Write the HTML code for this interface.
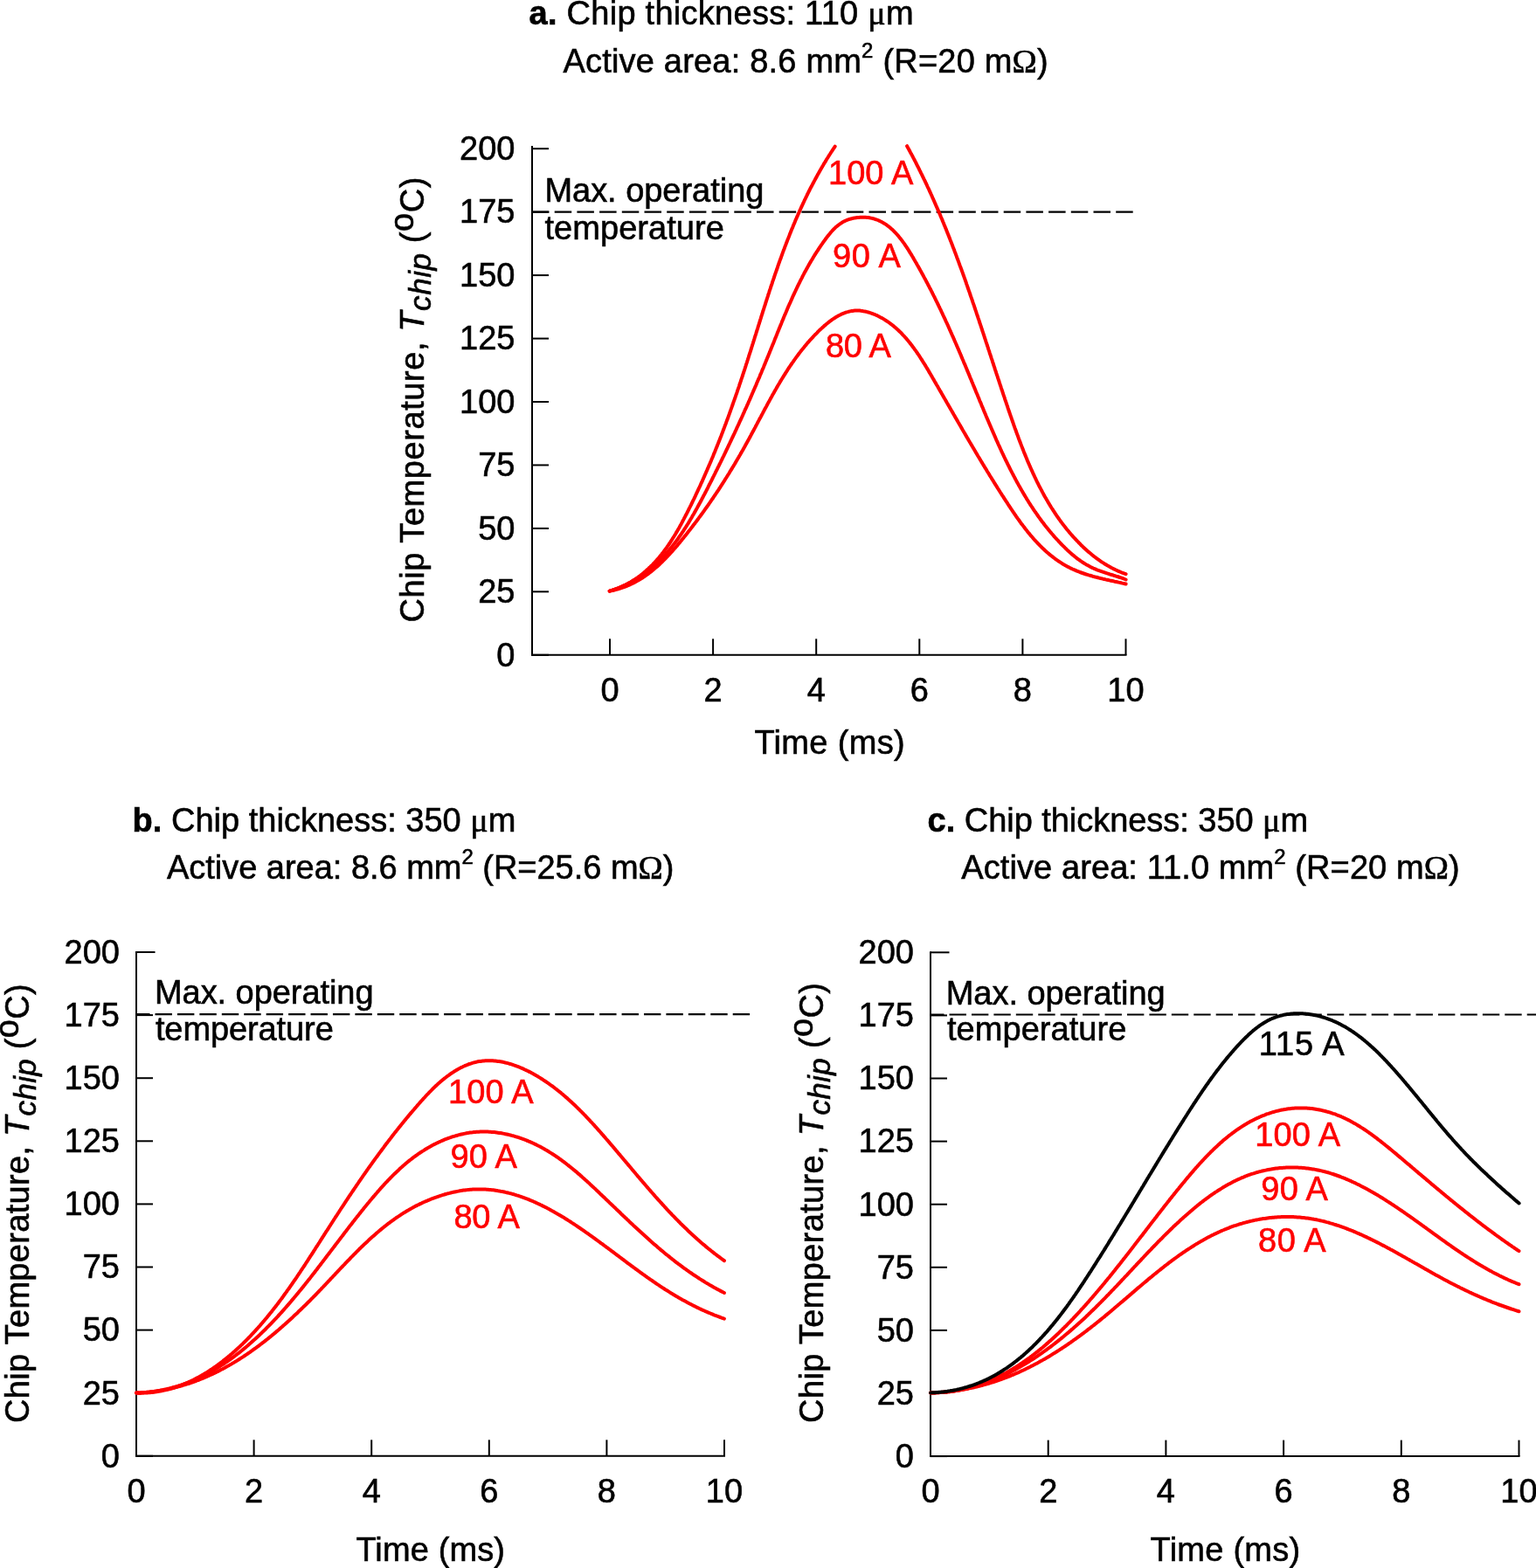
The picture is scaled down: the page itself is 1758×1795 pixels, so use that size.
<!DOCTYPE html>
<html><head><meta charset="utf-8"><title>Chip temperature</title>
<style>html,body{margin:0;padding:0;background:#fff;}svg{display:block;}</style>
</head><body>
<svg xmlns="http://www.w3.org/2000/svg" width="1758" height="1795" viewBox="0 0 1758 1795" font-family="&apos;Liberation Sans&apos;, Arial, sans-serif">
<style>text{stroke-width:0.6px;}</style>
<rect width="100%" height="100%" fill="#fff"/>
<line x1="609.00" y1="167.00" x2="609.00" y2="750.80" stroke="#000" stroke-width="2"/>
<line x1="608.00" y1="749.80" x2="1289.50" y2="749.80" stroke="#000" stroke-width="2"/>
<line x1="609.00" y1="749.80" x2="628.00" y2="749.80" stroke="#000" stroke-width="2"/>
<text x="589.5" y="762.6" text-anchor="end" fill="#000" stroke="#000" font-size="38">0</text>
<line x1="609.00" y1="677.35" x2="628.00" y2="677.35" stroke="#000" stroke-width="2"/>
<text x="589.5" y="690.1" text-anchor="end" fill="#000" stroke="#000" font-size="38">25</text>
<line x1="609.00" y1="604.90" x2="628.00" y2="604.90" stroke="#000" stroke-width="2"/>
<text x="589.5" y="617.7" text-anchor="end" fill="#000" stroke="#000" font-size="38">50</text>
<line x1="609.00" y1="532.45" x2="628.00" y2="532.45" stroke="#000" stroke-width="2"/>
<text x="589.5" y="545.2" text-anchor="end" fill="#000" stroke="#000" font-size="38">75</text>
<line x1="609.00" y1="460.00" x2="628.00" y2="460.00" stroke="#000" stroke-width="2"/>
<text x="589.5" y="472.8" text-anchor="end" fill="#000" stroke="#000" font-size="38">100</text>
<line x1="609.00" y1="387.55" x2="628.00" y2="387.55" stroke="#000" stroke-width="2"/>
<text x="589.5" y="400.3" text-anchor="end" fill="#000" stroke="#000" font-size="38">125</text>
<line x1="609.00" y1="315.10" x2="628.00" y2="315.10" stroke="#000" stroke-width="2"/>
<text x="589.5" y="327.9" text-anchor="end" fill="#000" stroke="#000" font-size="38">150</text>
<line x1="609.00" y1="242.65" x2="628.00" y2="242.65" stroke="#000" stroke-width="2"/>
<text x="589.5" y="255.4" text-anchor="end" fill="#000" stroke="#000" font-size="38">175</text>
<line x1="609.00" y1="170.20" x2="628.00" y2="170.20" stroke="#000" stroke-width="2"/>
<text x="589.5" y="183.0" text-anchor="end" fill="#000" stroke="#000" font-size="38">200</text>
<line x1="698.00" y1="749.80" x2="698.00" y2="731.30" stroke="#000" stroke-width="2"/>
<text x="698.0" y="803.0" text-anchor="middle" fill="#000" stroke="#000" font-size="38">0</text>
<line x1="816.10" y1="749.80" x2="816.10" y2="731.30" stroke="#000" stroke-width="2"/>
<text x="816.1" y="803.0" text-anchor="middle" fill="#000" stroke="#000" font-size="38">2</text>
<line x1="934.20" y1="749.80" x2="934.20" y2="731.30" stroke="#000" stroke-width="2"/>
<text x="934.2" y="803.0" text-anchor="middle" fill="#000" stroke="#000" font-size="38">4</text>
<line x1="1052.30" y1="749.80" x2="1052.30" y2="731.30" stroke="#000" stroke-width="2"/>
<text x="1052.3" y="803.0" text-anchor="middle" fill="#000" stroke="#000" font-size="38">6</text>
<line x1="1170.40" y1="749.80" x2="1170.40" y2="731.30" stroke="#000" stroke-width="2"/>
<text x="1170.4" y="803.0" text-anchor="middle" fill="#000" stroke="#000" font-size="38">8</text>
<line x1="1288.50" y1="749.80" x2="1288.50" y2="731.30" stroke="#000" stroke-width="2"/>
<text x="1288.5" y="803.0" text-anchor="middle" fill="#000" stroke="#000" font-size="38">10</text>
<line x1="609.00" y1="242.70" x2="1297.00" y2="242.70" stroke="#000" stroke-width="2.2" stroke-dasharray="19.5 6.2" stroke-dashoffset="0"/>
<text x="623.40" y="230.80" fill="#000" stroke="#000" font-size="38" textLength="250.98" lengthAdjust="spacing">Max. operating</text>
<text x="623.50" y="273.50" fill="#000" stroke="#000" font-size="38" textLength="205.29" lengthAdjust="spacing">temperature</text>
<text x="863.40" y="863.00" fill="#000" stroke="#000" font-size="38" textLength="172.36" lengthAdjust="spacing">Time (ms)</text>
<text transform="translate(484.50 712.60) rotate(-90)" fill="#000" stroke="#000" font-size="38" textLength="509.98" lengthAdjust="spacing">Chip Temperature, <tspan font-style="italic">T</tspan><tspan font-style="italic" font-size="35" dy="8">chip</tspan><tspan dy="-8"> (</tspan><tspan dy="-12">o</tspan><tspan dy="12">C)</tspan></text>
<text x="605.50" y="28.00" fill="#000" stroke="#000" font-size="38" textLength="440.07" lengthAdjust="spacing"><tspan font-weight="bold">a.</tspan> Chip thickness: 110 <tspan font-family="&apos;Liberation Serif&apos;, &apos;Times New Roman&apos;, serif">&#956;</tspan>m</text>
<text x="644.40" y="83.00" fill="#000" stroke="#000" font-size="38" textLength="555.30" lengthAdjust="spacing">Active area: 8.6 mm<tspan font-size="24" dy="-17">2</tspan><tspan dy="17"> (R=20 m</tspan><tspan font-family="&apos;Liberation Serif&apos;, &apos;Times New Roman&apos;, serif">&#937;</tspan>)</text>
<path d="M697.7 676.6 L699.3 676.3 L700.8 676.0 L702.3 675.7 L703.8 675.3 L705.3 674.9 L706.8 674.5 L708.3 674.1 L709.8 673.6 L711.2 673.2 L712.6 672.7 L714.1 672.2 L715.5 671.6 L716.9 671.1 L718.3 670.5 L719.6 669.9 L721.0 669.3 L722.3 668.7 L723.7 668.0 L725.0 667.4 L726.3 666.7 L727.6 666.0 L728.9 665.3 L730.2 664.6 L731.5 663.8 L732.8 663.0 L734.0 662.3 L735.3 661.5 L736.5 660.7 L737.7 659.8 L738.9 659.0 L740.1 658.1 L741.3 657.3 L742.5 656.4 L743.7 655.5 L744.9 654.6 L746.0 653.7 L747.2 652.7 L748.3 651.8 L749.4 650.8 L750.6 649.8 L751.7 648.9 L752.8 647.9 L753.9 646.9 L755.0 645.9 L756.1 644.8 L757.2 643.8 L758.2 642.8 L759.3 641.7 L760.4 640.6 L761.4 639.6 L762.5 638.5 L763.5 637.4 L764.5 636.3 L765.6 635.2 L766.6 634.1 L767.6 633.0 L768.6 631.9 L769.6 630.8 L770.6 629.6 L771.6 628.5 L772.6 627.4 L773.6 626.2 L774.6 625.1 L775.6 623.9 L776.5 622.7 L777.5 621.6 L778.5 620.4 L779.4 619.2 L780.4 618.1 L781.3 616.9 L782.3 615.7 L783.2 614.6 L784.2 613.4 L785.1 612.2 L786.1 611.0 L787.0 609.8 L787.9 608.6 L788.8 607.5 L789.8 606.3 L790.7 605.1 L791.6 603.9 L792.5 602.7 L793.4 601.5 L794.3 600.3 L795.3 599.1 L796.2 597.9 L797.1 596.7 L798.0 595.5 L798.9 594.3 L799.7 593.1 L800.6 591.9 L801.5 590.7 L802.4 589.5 L803.3 588.3 L804.2 587.1 L805.0 585.9 L805.9 584.7 L806.8 583.4 L807.6 582.2 L808.5 581.0 L809.4 579.8 L810.2 578.6 L811.1 577.3 L811.9 576.1 L812.8 574.9 L813.6 573.7 L814.5 572.4 L815.3 571.2 L816.2 570.0 L817.0 568.7 L817.8 567.5 L818.7 566.3 L819.5 565.0 L820.3 563.8 L821.1 562.6 L822.0 561.3 L822.8 560.1 L823.6 558.8 L824.4 557.6 L825.2 556.3 L826.0 555.1 L826.8 553.8 L827.6 552.6 L828.4 551.3 L829.2 550.1 L830.0 548.8 L830.8 547.5 L831.6 546.3 L832.4 545.0 L833.2 543.7 L834.0 542.5 L834.8 541.2 L835.5 539.9 L836.3 538.7 L837.1 537.4 L837.9 536.1 L838.6 534.8 L839.4 533.6 L840.2 532.3 L841.0 531.0 L841.7 529.7 L842.5 528.4 L843.2 527.1 L844.0 525.8 L844.7 524.6 L845.5 523.3 L846.2 522.0 L847.0 520.7 L847.7 519.4 L848.5 518.1 L849.2 516.8 L850.0 515.5 L850.7 514.2 L851.4 512.9 L852.2 511.5 L852.9 510.2 L853.6 508.9 L854.4 507.6 L855.1 506.3 L855.8 505.0 L856.5 503.7 L857.3 502.3 L858.0 501.0 L858.7 499.7 L859.4 498.4 L860.1 497.0 L860.8 495.7 L861.5 494.4 L862.3 493.1 L863.0 491.7 L863.7 490.4 L864.4 489.1 L865.1 487.7 L865.8 486.4 L866.5 485.1 L867.2 483.7 L867.9 482.4 L868.6 481.1 L869.3 479.7 L870.1 478.4 L870.8 477.1 L871.5 475.7 L872.2 474.4 L872.9 473.1 L873.6 471.7 L874.3 470.4 L875.0 469.0 L875.7 467.7 L876.5 466.4 L877.2 465.1 L877.9 463.7 L878.6 462.4 L879.3 461.1 L880.1 459.7 L880.8 458.4 L881.5 457.1 L882.2 455.8 L883.0 454.4 L883.7 453.1 L884.4 451.8 L885.2 450.5 L885.9 449.2 L886.7 447.8 L887.4 446.5 L888.2 445.2 L888.9 443.9 L889.7 442.6 L890.4 441.3 L891.2 440.0 L892.0 438.7 L892.7 437.4 L893.5 436.1 L894.3 434.8 L895.1 433.5 L895.9 432.2 L896.7 430.9 L897.5 429.7 L898.3 428.4 L899.1 427.1 L899.9 425.8 L900.7 424.6 L901.5 423.3 L902.3 422.0 L903.2 420.8 L904.0 419.5 L904.8 418.3 L905.7 417.0 L906.5 415.8 L907.4 414.6 L908.3 413.3 L909.1 412.1 L910.0 410.9 L910.9 409.6 L911.8 408.4 L912.7 407.2 L913.6 406.0 L914.5 404.8 L915.4 403.6 L916.3 402.4 L917.2 401.2 L918.2 400.0 L919.1 398.9 L920.1 397.7 L921.0 396.5 L922.0 395.4 L923.0 394.2 L923.9 393.1 L924.9 391.9 L925.9 390.8 L926.9 389.6 L927.9 388.5 L929.0 387.4 L930.0 386.3 L931.0 385.2 L932.1 384.0 L933.1 382.9 L934.2 381.9 L935.3 380.8 L936.3 379.7 L937.4 378.6 L938.5 377.6 L939.6 376.5 L940.8 375.5 L941.9 374.4 L943.0 373.4 L944.2 372.4 L945.3 371.4 L946.5 370.5 L947.7 369.5 L948.8 368.6 L950.0 367.7 L951.2 366.8 L952.4 365.9 L953.6 365.1 L954.9 364.3 L956.1 363.5 L957.3 362.7 L958.6 362.0 L959.8 361.3 L961.1 360.7 L962.4 360.0 L963.7 359.4 L965.0 358.9 L966.3 358.4 L967.6 357.9 L968.9 357.4 L970.2 357.1 L971.5 356.7 L972.9 356.4 L974.2 356.1 L975.6 355.9 L977.0 355.7 L978.3 355.6 L979.7 355.5 L981.1 355.5 L982.5 355.5 L983.9 355.6 L985.3 355.8 L986.7 355.9 L988.1 356.2 L989.6 356.4 L991.0 356.7 L992.4 357.1 L993.8 357.5 L995.2 357.9 L996.6 358.3 L998.0 358.8 L999.4 359.4 L1000.8 359.9 L1002.2 360.5 L1003.6 361.1 L1004.9 361.8 L1006.3 362.5 L1007.6 363.2 L1009.0 363.9 L1010.3 364.6 L1011.6 365.4 L1012.8 366.2 L1014.1 367.0 L1015.3 367.8 L1016.6 368.6 L1017.8 369.5 L1019.0 370.4 L1020.2 371.3 L1021.3 372.2 L1022.5 373.1 L1023.6 374.1 L1024.8 375.0 L1025.9 376.0 L1027.0 377.0 L1028.1 378.0 L1029.1 379.0 L1030.2 380.1 L1031.3 381.1 L1032.3 382.2 L1033.3 383.3 L1034.4 384.4 L1035.4 385.5 L1036.4 386.6 L1037.4 387.7 L1038.3 388.9 L1039.3 390.0 L1040.3 391.2 L1041.2 392.4 L1042.2 393.6 L1043.1 394.8 L1044.0 396.0 L1044.9 397.2 L1045.8 398.4 L1046.7 399.7 L1047.6 400.9 L1048.5 402.1 L1049.4 403.4 L1050.2 404.7 L1051.1 405.9 L1052.0 407.2 L1052.8 408.5 L1053.6 409.8 L1054.5 411.1 L1055.3 412.4 L1056.1 413.7 L1056.9 415.0 L1057.8 416.3 L1058.6 417.6 L1059.4 418.9 L1060.2 420.3 L1061.0 421.6 L1061.8 422.9 L1062.6 424.2 L1063.3 425.6 L1064.1 426.9 L1064.9 428.2 L1065.7 429.6 L1066.5 430.9 L1067.2 432.2 L1068.0 433.6 L1068.8 434.9 L1069.5 436.2 L1070.3 437.6 L1071.1 438.9 L1071.8 440.2 L1072.6 441.5 L1073.4 442.8 L1074.1 444.2 L1074.9 445.5 L1075.6 446.8 L1076.4 448.1 L1077.2 449.4 L1077.9 450.7 L1078.7 452.1 L1079.4 453.4 L1080.2 454.7 L1080.9 456.0 L1081.7 457.3 L1082.4 458.6 L1083.2 459.9 L1083.9 461.2 L1084.7 462.5 L1085.4 463.8 L1086.2 465.1 L1086.9 466.4 L1087.7 467.7 L1088.4 469.0 L1089.2 470.3 L1089.9 471.6 L1090.7 472.9 L1091.4 474.2 L1092.2 475.5 L1092.9 476.8 L1093.6 478.1 L1094.4 479.3 L1095.1 480.6 L1095.9 481.9 L1096.6 483.2 L1097.4 484.5 L1098.1 485.8 L1098.9 487.1 L1099.6 488.3 L1100.3 489.6 L1101.1 490.9 L1101.8 492.2 L1102.6 493.5 L1103.3 494.7 L1104.1 496.0 L1104.8 497.3 L1105.5 498.6 L1106.3 499.9 L1107.0 501.1 L1107.8 502.4 L1108.5 503.7 L1109.3 505.0 L1110.0 506.2 L1110.8 507.5 L1111.5 508.8 L1112.3 510.1 L1113.0 511.3 L1113.8 512.6 L1114.5 513.9 L1115.3 515.1 L1116.0 516.4 L1116.8 517.7 L1117.5 518.9 L1118.3 520.2 L1119.0 521.5 L1119.8 522.8 L1120.6 524.0 L1121.3 525.3 L1122.1 526.6 L1122.8 527.8 L1123.6 529.1 L1124.4 530.4 L1125.1 531.6 L1125.9 532.9 L1126.7 534.2 L1127.4 535.4 L1128.2 536.7 L1129.0 537.9 L1129.7 539.2 L1130.5 540.5 L1131.3 541.7 L1132.1 543.0 L1132.8 544.3 L1133.6 545.5 L1134.4 546.8 L1135.2 548.1 L1136.0 549.3 L1136.8 550.6 L1137.5 551.9 L1138.3 553.1 L1139.1 554.4 L1139.9 555.7 L1140.7 556.9 L1141.5 558.2 L1142.3 559.5 L1143.1 560.7 L1143.9 562.0 L1144.7 563.3 L1145.5 564.5 L1146.3 565.8 L1147.1 567.1 L1148.0 568.3 L1148.8 569.6 L1149.6 570.9 L1150.4 572.1 L1151.2 573.4 L1152.1 574.7 L1152.9 575.9 L1153.7 577.2 L1154.5 578.5 L1155.4 579.7 L1156.2 581.0 L1157.1 582.3 L1157.9 583.5 L1158.8 584.8 L1159.6 586.1 L1160.5 587.3 L1161.3 588.6 L1162.2 589.8 L1163.0 591.1 L1163.9 592.3 L1164.8 593.6 L1165.7 594.8 L1166.6 596.0 L1167.5 597.3 L1168.3 598.5 L1169.2 599.7 L1170.2 600.9 L1171.1 602.1 L1172.0 603.3 L1172.9 604.5 L1173.8 605.7 L1174.8 606.9 L1175.7 608.1 L1176.6 609.3 L1177.6 610.4 L1178.6 611.6 L1179.5 612.8 L1180.5 613.9 L1181.5 615.0 L1182.5 616.2 L1183.4 617.3 L1184.4 618.4 L1185.5 619.5 L1186.5 620.6 L1187.5 621.7 L1188.5 622.8 L1189.6 623.8 L1190.6 624.9 L1191.6 625.9 L1192.7 627.0 L1193.8 628.0 L1194.9 629.0 L1195.9 630.0 L1197.0 631.0 L1198.1 632.0 L1199.3 633.0 L1200.4 633.9 L1201.5 634.9 L1202.6 635.8 L1203.8 636.7 L1205.0 637.6 L1206.1 638.5 L1207.3 639.4 L1208.5 640.3 L1209.7 641.1 L1210.9 642.0 L1212.1 642.8 L1213.4 643.6 L1214.6 644.4 L1215.8 645.2 L1217.1 646.0 L1218.4 646.7 L1219.7 647.4 L1221.0 648.2 L1222.3 648.9 L1223.6 649.5 L1224.9 650.2 L1226.3 650.9 L1227.6 651.5 L1229.0 652.1 L1230.4 652.7 L1231.8 653.3 L1233.2 653.9 L1234.6 654.4 L1236.0 655.0 L1237.4 655.5 L1238.8 656.0 L1240.3 656.5 L1241.7 657.0 L1243.2 657.5 L1244.6 657.9 L1246.1 658.4 L1247.6 658.8 L1249.1 659.2 L1250.5 659.7 L1252.0 660.1 L1253.5 660.5 L1255.0 660.8 L1256.5 661.2 L1258.0 661.6 L1259.5 662.0 L1261.0 662.3 L1262.4 662.7 L1263.9 663.0 L1265.4 663.4 L1266.9 663.7 L1268.4 664.0 L1269.9 664.4 L1271.3 664.7 L1272.8 665.0 L1274.3 665.3 L1275.7 665.7 L1277.2 666.0 L1278.7 666.3 L1280.1 666.6 L1281.5 666.9 L1283.0 667.2 L1284.4 667.6 L1285.8 667.9 L1287.2 668.2 L1288.6 668.5" fill="none" stroke="#ff0000" stroke-width="4" stroke-linecap="round" stroke-linejoin="round"/>
<path d="M697.7 676.6 L699.2 676.1 L700.7 675.7 L702.2 675.2 L703.7 674.7 L705.1 674.2 L706.6 673.6 L708.0 673.1 L709.4 672.5 L710.8 671.9 L712.2 671.3 L713.6 670.7 L715.0 670.1 L716.4 669.5 L717.7 668.8 L719.1 668.1 L720.4 667.5 L721.7 666.8 L723.0 666.1 L724.3 665.3 L725.6 664.6 L726.9 663.8 L728.1 663.1 L729.4 662.3 L730.6 661.5 L731.9 660.7 L733.1 659.9 L734.3 659.1 L735.5 658.2 L736.7 657.4 L737.9 656.5 L739.0 655.7 L740.2 654.8 L741.3 653.9 L742.5 653.0 L743.6 652.0 L744.7 651.1 L745.8 650.2 L746.9 649.2 L748.0 648.2 L749.1 647.3 L750.2 646.3 L751.3 645.3 L752.3 644.3 L753.4 643.3 L754.4 642.2 L755.5 641.2 L756.5 640.2 L757.5 639.1 L758.5 638.0 L759.5 637.0 L760.5 635.9 L761.5 634.8 L762.5 633.7 L763.4 632.6 L764.4 631.5 L765.3 630.3 L766.3 629.2 L767.2 628.1 L768.2 626.9 L769.1 625.8 L770.0 624.6 L770.9 623.4 L771.8 622.2 L772.7 621.1 L773.6 619.9 L774.5 618.7 L775.4 617.5 L776.2 616.3 L777.1 615.0 L778.0 613.8 L778.8 612.6 L779.7 611.3 L780.5 610.1 L781.4 608.8 L782.2 607.6 L783.0 606.3 L783.8 605.1 L784.7 603.8 L785.5 602.5 L786.3 601.2 L787.1 600.0 L787.9 598.7 L788.7 597.4 L789.4 596.1 L790.2 594.8 L791.0 593.5 L791.8 592.2 L792.5 590.8 L793.3 589.5 L794.1 588.2 L794.8 586.9 L795.6 585.6 L796.3 584.2 L797.1 582.9 L797.8 581.6 L798.5 580.2 L799.3 578.9 L800.0 577.5 L800.7 576.2 L801.5 574.9 L802.2 573.5 L802.9 572.2 L803.6 570.8 L804.3 569.5 L805.0 568.1 L805.7 566.8 L806.5 565.4 L807.2 564.0 L807.9 562.7 L808.6 561.3 L809.3 560.0 L810.0 558.6 L810.6 557.3 L811.3 555.9 L812.0 554.5 L812.7 553.2 L813.4 551.8 L814.1 550.5 L814.8 549.1 L815.5 547.8 L816.1 546.4 L816.8 545.1 L817.5 543.7 L818.2 542.3 L818.8 541.0 L819.5 539.6 L820.2 538.3 L820.9 536.9 L821.5 535.6 L822.2 534.2 L822.9 532.9 L823.5 531.5 L824.2 530.2 L824.9 528.8 L825.5 527.5 L826.2 526.1 L826.8 524.8 L827.5 523.4 L828.2 522.1 L828.8 520.7 L829.5 519.4 L830.1 518.0 L830.8 516.7 L831.4 515.3 L832.1 514.0 L832.7 512.6 L833.4 511.3 L834.0 509.9 L834.6 508.6 L835.3 507.2 L835.9 505.9 L836.6 504.5 L837.2 503.2 L837.8 501.8 L838.5 500.5 L839.1 499.1 L839.7 497.8 L840.4 496.4 L841.0 495.1 L841.6 493.7 L842.3 492.4 L842.9 491.0 L843.5 489.7 L844.1 488.3 L844.8 486.9 L845.4 485.6 L846.0 484.2 L846.6 482.9 L847.2 481.5 L847.9 480.2 L848.5 478.8 L849.1 477.5 L849.7 476.1 L850.3 474.8 L850.9 473.4 L851.5 472.1 L852.1 470.7 L852.7 469.3 L853.4 468.0 L854.0 466.6 L854.6 465.3 L855.2 463.9 L855.8 462.6 L856.4 461.2 L857.0 459.8 L857.6 458.5 L858.2 457.1 L858.8 455.8 L859.4 454.4 L860.0 453.0 L860.6 451.7 L861.1 450.3 L861.7 449.0 L862.3 447.6 L862.9 446.2 L863.5 444.9 L864.1 443.5 L864.7 442.1 L865.3 440.8 L865.9 439.4 L866.4 438.0 L867.0 436.7 L867.6 435.3 L868.2 433.9 L868.8 432.6 L869.4 431.2 L869.9 429.8 L870.5 428.4 L871.1 427.1 L871.7 425.7 L872.2 424.3 L872.8 422.9 L873.4 421.6 L874.0 420.2 L874.5 418.8 L875.1 417.4 L875.7 416.1 L876.2 414.7 L876.8 413.3 L877.4 411.9 L877.9 410.5 L878.5 409.1 L879.1 407.8 L879.6 406.4 L880.2 405.0 L880.8 403.6 L881.3 402.2 L881.9 400.8 L882.5 399.4 L883.0 398.0 L883.6 396.7 L884.1 395.3 L884.7 393.9 L885.3 392.5 L885.8 391.1 L886.4 389.7 L886.9 388.3 L887.5 386.9 L888.1 385.5 L888.6 384.1 L889.2 382.7 L889.7 381.3 L890.3 379.9 L890.9 378.5 L891.4 377.1 L892.0 375.7 L892.6 374.4 L893.1 373.0 L893.7 371.6 L894.3 370.2 L894.8 368.8 L895.4 367.4 L896.0 366.0 L896.6 364.6 L897.1 363.2 L897.7 361.8 L898.3 360.4 L898.9 359.1 L899.5 357.7 L900.1 356.3 L900.7 354.9 L901.2 353.5 L901.8 352.1 L902.4 350.7 L903.0 349.4 L903.6 348.0 L904.3 346.6 L904.9 345.2 L905.5 343.9 L906.1 342.5 L906.7 341.1 L907.3 339.7 L907.9 338.4 L908.6 337.0 L909.2 335.6 L909.8 334.3 L910.5 332.9 L911.1 331.6 L911.8 330.2 L912.4 328.8 L913.1 327.5 L913.7 326.1 L914.4 324.8 L915.1 323.4 L915.7 322.1 L916.4 320.7 L917.1 319.4 L917.8 318.1 L918.4 316.7 L919.1 315.4 L919.8 314.1 L920.5 312.7 L921.2 311.4 L922.0 310.1 L922.7 308.8 L923.4 307.5 L924.1 306.2 L924.9 304.8 L925.6 303.5 L926.3 302.2 L927.1 300.9 L927.9 299.6 L928.6 298.3 L929.4 297.1 L930.2 295.8 L930.9 294.5 L931.7 293.2 L932.5 291.9 L933.3 290.6 L934.1 289.4 L934.9 288.1 L935.8 286.9 L936.6 285.6 L937.4 284.3 L938.2 283.1 L939.1 281.8 L939.9 280.6 L940.8 279.4 L941.7 278.1 L942.5 276.9 L943.4 275.7 L944.3 274.5 L945.2 273.2 L946.1 272.0 L947.0 270.8 L948.0 269.6 L948.9 268.5 L949.9 267.3 L950.8 266.1 L951.8 265.0 L952.8 263.9 L953.8 262.8 L954.9 261.8 L956.0 260.7 L957.0 259.7 L958.2 258.8 L959.3 257.9 L960.5 257.0 L961.7 256.1 L962.9 255.3 L964.1 254.5 L965.4 253.8 L966.8 253.1 L968.1 252.5 L969.5 251.9 L970.9 251.4 L972.4 250.9 L973.9 250.5 L975.3 250.1 L976.8 249.7 L978.4 249.4 L979.9 249.2 L981.4 249.0 L983.0 248.9 L984.5 248.8 L986.1 248.7 L987.6 248.7 L989.1 248.7 L990.6 248.8 L992.2 248.9 L993.6 249.1 L995.1 249.3 L996.6 249.6 L998.0 249.9 L999.4 250.2 L1000.8 250.6 L1002.1 251.1 L1003.5 251.5 L1004.8 252.0 L1006.1 252.6 L1007.4 253.2 L1008.6 253.8 L1009.8 254.5 L1011.1 255.2 L1012.3 255.9 L1013.4 256.6 L1014.6 257.4 L1015.7 258.3 L1016.9 259.1 L1018.0 260.0 L1019.1 260.9 L1020.2 261.9 L1021.2 262.8 L1022.3 263.8 L1023.3 264.8 L1024.3 265.9 L1025.3 266.9 L1026.3 268.0 L1027.3 269.1 L1028.3 270.3 L1029.2 271.4 L1030.1 272.6 L1031.1 273.8 L1032.0 274.9 L1032.9 276.2 L1033.8 277.4 L1034.7 278.6 L1035.6 279.9 L1036.4 281.2 L1037.3 282.4 L1038.1 283.7 L1039.0 285.0 L1039.8 286.3 L1040.6 287.6 L1041.4 289.0 L1042.3 290.3 L1043.1 291.6 L1043.9 293.0 L1044.7 294.3 L1045.4 295.6 L1046.2 297.0 L1047.0 298.3 L1047.8 299.7 L1048.6 301.0 L1049.3 302.3 L1050.1 303.7 L1050.9 305.0 L1051.6 306.4 L1052.4 307.7 L1053.1 309.0 L1053.9 310.4 L1054.6 311.7 L1055.3 313.1 L1056.1 314.4 L1056.8 315.8 L1057.5 317.1 L1058.2 318.4 L1059.0 319.8 L1059.7 321.1 L1060.4 322.5 L1061.1 323.8 L1061.8 325.1 L1062.5 326.5 L1063.2 327.8 L1063.9 329.2 L1064.6 330.5 L1065.3 331.8 L1066.0 333.2 L1066.7 334.5 L1067.3 335.9 L1068.0 337.2 L1068.7 338.6 L1069.4 339.9 L1070.0 341.2 L1070.7 342.6 L1071.3 343.9 L1072.0 345.3 L1072.7 346.6 L1073.3 348.0 L1074.0 349.3 L1074.6 350.6 L1075.3 352.0 L1075.9 353.3 L1076.6 354.7 L1077.2 356.0 L1077.8 357.4 L1078.5 358.7 L1079.1 360.1 L1079.7 361.4 L1080.4 362.8 L1081.0 364.1 L1081.6 365.4 L1082.2 366.8 L1082.8 368.1 L1083.5 369.5 L1084.1 370.8 L1084.7 372.2 L1085.3 373.5 L1085.9 374.9 L1086.5 376.2 L1087.1 377.6 L1087.7 378.9 L1088.3 380.3 L1088.9 381.6 L1089.5 383.0 L1090.1 384.3 L1090.7 385.7 L1091.3 387.0 L1091.9 388.4 L1092.5 389.8 L1093.1 391.1 L1093.7 392.5 L1094.3 393.8 L1094.8 395.2 L1095.4 396.5 L1096.0 397.9 L1096.6 399.2 L1097.2 400.6 L1097.8 402.0 L1098.3 403.3 L1098.9 404.7 L1099.5 406.0 L1100.1 407.4 L1100.6 408.8 L1101.2 410.1 L1101.8 411.5 L1102.4 412.8 L1102.9 414.2 L1103.5 415.6 L1104.1 416.9 L1104.7 418.3 L1105.2 419.7 L1105.8 421.0 L1106.4 422.4 L1106.9 423.8 L1107.5 425.1 L1108.1 426.5 L1108.6 427.9 L1109.2 429.2 L1109.8 430.6 L1110.3 432.0 L1110.9 433.4 L1111.5 434.7 L1112.0 436.1 L1112.6 437.5 L1113.2 438.8 L1113.7 440.2 L1114.3 441.6 L1114.9 443.0 L1115.4 444.4 L1116.0 445.7 L1116.6 447.1 L1117.1 448.5 L1117.7 449.9 L1118.3 451.2 L1118.9 452.6 L1119.4 454.0 L1120.0 455.4 L1120.6 456.8 L1121.1 458.2 L1121.7 459.6 L1122.3 460.9 L1122.9 462.3 L1123.4 463.7 L1124.0 465.1 L1124.6 466.5 L1125.2 467.9 L1125.7 469.3 L1126.3 470.7 L1126.9 472.1 L1127.5 473.5 L1128.1 474.9 L1128.6 476.2 L1129.2 477.6 L1129.8 479.0 L1130.4 480.4 L1131.0 481.8 L1131.6 483.2 L1132.2 484.6 L1132.8 486.0 L1133.4 487.4 L1134.0 488.8 L1134.6 490.2 L1135.2 491.6 L1135.8 493.0 L1136.4 494.4 L1137.0 495.8 L1137.6 497.2 L1138.2 498.5 L1138.8 499.9 L1139.4 501.3 L1140.0 502.7 L1140.6 504.1 L1141.3 505.5 L1141.9 506.9 L1142.5 508.3 L1143.1 509.6 L1143.8 511.0 L1144.4 512.4 L1145.0 513.8 L1145.7 515.2 L1146.3 516.6 L1146.9 517.9 L1147.6 519.3 L1148.2 520.7 L1148.9 522.1 L1149.5 523.4 L1150.2 524.8 L1150.8 526.2 L1151.5 527.5 L1152.2 528.9 L1152.8 530.3 L1153.5 531.6 L1154.2 533.0 L1154.9 534.3 L1155.5 535.7 L1156.2 537.0 L1156.9 538.4 L1157.6 539.7 L1158.3 541.1 L1159.0 542.4 L1159.7 543.8 L1160.4 545.1 L1161.1 546.4 L1161.8 547.8 L1162.5 549.1 L1163.2 550.4 L1163.9 551.8 L1164.7 553.1 L1165.4 554.4 L1166.1 555.7 L1166.9 557.0 L1167.6 558.3 L1168.4 559.7 L1169.1 561.0 L1169.9 562.3 L1170.6 563.6 L1171.4 564.8 L1172.1 566.1 L1172.9 567.4 L1173.7 568.7 L1174.5 570.0 L1175.2 571.3 L1176.0 572.5 L1176.8 573.8 L1177.6 575.1 L1178.4 576.3 L1179.2 577.6 L1180.0 578.9 L1180.9 580.1 L1181.7 581.3 L1182.5 582.6 L1183.3 583.8 L1184.2 585.1 L1185.0 586.3 L1185.9 587.5 L1186.7 588.7 L1187.6 590.0 L1188.4 591.2 L1189.3 592.4 L1190.2 593.6 L1191.0 594.8 L1191.9 596.0 L1192.8 597.2 L1193.7 598.3 L1194.6 599.5 L1195.5 600.7 L1196.4 601.9 L1197.3 603.0 L1198.3 604.2 L1199.2 605.3 L1200.1 606.5 L1201.1 607.6 L1202.0 608.8 L1203.0 609.9 L1203.9 611.0 L1204.9 612.1 L1205.8 613.2 L1206.8 614.4 L1207.8 615.5 L1208.8 616.6 L1209.8 617.7 L1210.8 618.7 L1211.8 619.8 L1212.8 620.9 L1213.8 622.0 L1214.8 623.0 L1215.9 624.1 L1216.9 625.1 L1218.0 626.2 L1219.0 627.2 L1220.1 628.2 L1221.2 629.3 L1222.2 630.3 L1223.3 631.3 L1224.4 632.3 L1225.5 633.2 L1226.6 634.2 L1227.7 635.2 L1228.9 636.1 L1230.0 637.1 L1231.2 638.0 L1232.3 638.9 L1233.5 639.8 L1234.7 640.7 L1235.9 641.5 L1237.1 642.4 L1238.3 643.2 L1239.6 644.0 L1240.8 644.8 L1242.1 645.6 L1243.4 646.4 L1244.7 647.1 L1246.0 647.8 L1247.3 648.5 L1248.6 649.2 L1250.0 649.9 L1251.3 650.5 L1252.7 651.1 L1254.1 651.7 L1255.5 652.3 L1257.0 652.9 L1258.4 653.4 L1259.8 653.9 L1261.3 654.4 L1262.8 654.9 L1264.2 655.4 L1265.7 655.9 L1267.2 656.4 L1268.7 656.8 L1270.1 657.3 L1271.6 657.8 L1273.1 658.2 L1274.5 658.7 L1276.0 659.1 L1277.4 659.6 L1278.9 660.0 L1280.3 660.5 L1281.7 661.0 L1283.1 661.4 L1284.5 661.9 L1285.9 662.4 L1287.3 663.0 L1288.6 663.5" fill="none" stroke="#ff0000" stroke-width="4" stroke-linecap="round" stroke-linejoin="round"/>
<path d="M697.7 676.6 L699.2 676.1 L700.7 675.7 L702.2 675.2 L703.7 674.7 L705.2 674.1 L706.6 673.6 L708.0 673.0 L709.5 672.4 L710.9 671.8 L712.3 671.2 L713.6 670.5 L715.0 669.9 L716.3 669.2 L717.7 668.5 L719.0 667.8 L720.3 667.1 L721.6 666.4 L722.8 665.6 L724.1 664.8 L725.3 664.1 L726.6 663.3 L727.8 662.5 L729.0 661.6 L730.2 660.8 L731.4 659.9 L732.6 659.1 L733.7 658.2 L734.9 657.3 L736.0 656.4 L737.1 655.4 L738.2 654.5 L739.3 653.6 L740.4 652.6 L741.5 651.6 L742.5 650.6 L743.6 649.6 L744.6 648.6 L745.7 647.6 L746.7 646.6 L747.7 645.5 L748.7 644.5 L749.7 643.4 L750.7 642.3 L751.7 641.2 L752.6 640.1 L753.6 639.0 L754.5 637.9 L755.4 636.8 L756.4 635.6 L757.3 634.5 L758.2 633.3 L759.1 632.2 L760.0 631.0 L760.9 629.8 L761.7 628.6 L762.6 627.4 L763.5 626.2 L764.3 625.0 L765.1 623.8 L766.0 622.5 L766.8 621.3 L767.6 620.1 L768.4 618.8 L769.2 617.6 L770.0 616.3 L770.8 615.0 L771.6 613.8 L772.4 612.5 L773.2 611.2 L773.9 609.9 L774.7 608.6 L775.5 607.3 L776.2 606.0 L777.0 604.7 L777.7 603.4 L778.4 602.1 L779.2 600.7 L779.9 599.4 L780.6 598.1 L781.3 596.7 L782.0 595.4 L782.7 594.1 L783.4 592.7 L784.1 591.4 L784.8 590.0 L785.5 588.7 L786.2 587.4 L786.9 586.0 L787.6 584.6 L788.3 583.3 L788.9 581.9 L789.6 580.6 L790.3 579.2 L791.0 577.9 L791.6 576.5 L792.3 575.2 L792.9 573.8 L793.6 572.4 L794.3 571.1 L794.9 569.7 L795.6 568.4 L796.2 567.0 L796.8 565.6 L797.5 564.3 L798.1 562.9 L798.8 561.5 L799.4 560.2 L800.0 558.8 L800.7 557.4 L801.3 556.1 L801.9 554.7 L802.5 553.3 L803.2 552.0 L803.8 550.6 L804.4 549.2 L805.0 547.9 L805.6 546.5 L806.2 545.1 L806.8 543.7 L807.4 542.4 L808.0 541.0 L808.6 539.6 L809.2 538.3 L809.8 536.9 L810.4 535.5 L811.0 534.1 L811.6 532.7 L812.2 531.4 L812.8 530.0 L813.4 528.6 L814.0 527.2 L814.5 525.8 L815.1 524.5 L815.7 523.1 L816.3 521.7 L816.8 520.3 L817.4 518.9 L818.0 517.5 L818.5 516.2 L819.1 514.8 L819.6 513.4 L820.2 512.0 L820.8 510.6 L821.3 509.2 L821.9 507.8 L822.4 506.4 L823.0 505.1 L823.5 503.7 L824.1 502.3 L824.6 500.9 L825.2 499.5 L825.7 498.1 L826.2 496.7 L826.8 495.3 L827.3 493.9 L827.8 492.5 L828.4 491.1 L828.9 489.7 L829.4 488.3 L829.9 486.9 L830.5 485.5 L831.0 484.1 L831.5 482.7 L832.0 481.3 L832.6 479.9 L833.1 478.5 L833.6 477.1 L834.1 475.7 L834.6 474.3 L835.1 472.9 L835.6 471.5 L836.1 470.1 L836.6 468.7 L837.1 467.3 L837.6 465.9 L838.1 464.5 L838.6 463.0 L839.1 461.6 L839.6 460.2 L840.1 458.8 L840.6 457.4 L841.1 456.0 L841.6 454.6 L842.1 453.2 L842.6 451.7 L843.1 450.3 L843.6 448.9 L844.0 447.5 L844.5 446.1 L845.0 444.7 L845.5 443.3 L846.0 441.8 L846.4 440.4 L846.9 439.0 L847.4 437.6 L847.9 436.2 L848.3 434.7 L848.8 433.3 L849.3 431.9 L849.8 430.5 L850.2 429.0 L850.7 427.6 L851.2 426.2 L851.6 424.8 L852.1 423.3 L852.6 421.9 L853.0 420.5 L853.5 419.1 L853.9 417.6 L854.4 416.2 L854.9 414.8 L855.3 413.3 L855.8 411.9 L856.2 410.5 L856.7 409.1 L857.1 407.6 L857.6 406.2 L858.0 404.8 L858.5 403.3 L859.0 401.9 L859.4 400.5 L859.9 399.0 L860.3 397.6 L860.8 396.2 L861.2 394.7 L861.7 393.3 L862.1 391.9 L862.6 390.4 L863.0 389.0 L863.5 387.6 L863.9 386.1 L864.4 384.7 L864.8 383.3 L865.3 381.8 L865.7 380.4 L866.2 379.0 L866.6 377.5 L867.1 376.1 L867.5 374.7 L868.0 373.2 L868.4 371.8 L868.9 370.4 L869.3 368.9 L869.8 367.5 L870.2 366.0 L870.7 364.6 L871.1 363.2 L871.6 361.7 L872.0 360.3 L872.5 358.9 L872.9 357.4 L873.4 356.0 L873.8 354.6 L874.3 353.1 L874.7 351.7 L875.2 350.3 L875.7 348.9 L876.1 347.4 L876.6 346.0 L877.0 344.6 L877.5 343.1 L878.0 341.7 L878.4 340.3 L878.9 338.8 L879.3 337.4 L879.8 336.0 L880.3 334.6 L880.7 333.1 L881.2 331.7 L881.7 330.3 L882.1 328.9 L882.6 327.4 L883.1 326.0 L883.6 324.6 L884.0 323.2 L884.5 321.7 L885.0 320.3 L885.5 318.9 L886.0 317.5 L886.4 316.1 L886.9 314.6 L887.4 313.2 L887.9 311.8 L888.4 310.4 L888.9 309.0 L889.4 307.5 L889.9 306.1 L890.3 304.7 L890.8 303.3 L891.3 301.9 L891.8 300.5 L892.3 299.1 L892.8 297.7 L893.4 296.3 L893.9 294.8 L894.4 293.4 L894.9 292.0 L895.4 290.6 L895.9 289.2 L896.4 287.8 L896.9 286.4 L897.5 285.0 L898.0 283.6 L898.5 282.2 L899.1 280.8 L899.6 279.4 L900.1 278.0 L900.7 276.6 L901.2 275.2 L901.7 273.8 L902.3 272.5 L902.8 271.1 L903.4 269.7 L903.9 268.3 L904.5 266.9 L905.0 265.5 L905.6 264.1 L906.1 262.8 L906.7 261.4 L907.3 260.0 L907.8 258.6 L908.4 257.2 L909.0 255.9 L909.6 254.5 L910.1 253.1 L910.7 251.7 L911.3 250.4 L911.9 249.0 L912.5 247.6 L913.1 246.3 L913.7 244.9 L914.3 243.6 L914.9 242.2 L915.5 240.8 L916.1 239.5 L916.7 238.1 L917.4 236.8 L918.0 235.4 L918.6 234.1 L919.2 232.7 L919.9 231.4 L920.5 230.0 L921.1 228.7 L921.8 227.3 L922.4 226.0 L923.1 224.6 L923.7 223.3 L924.4 222.0 L925.0 220.6 L925.7 219.3 L926.4 218.0 L927.0 216.6 L927.7 215.3 L928.4 214.0 L929.1 212.7 L929.8 211.4 L930.5 210.0 L931.2 208.7 L931.9 207.4 L932.6 206.1 L933.3 204.8 L934.0 203.5 L934.7 202.2 L935.4 200.9 L936.1 199.6 L936.9 198.3 L937.6 197.0 L938.3 195.7 L939.1 194.4 L939.8 193.1 L940.6 191.8 L941.3 190.5 L942.1 189.2 L942.8 187.9 L943.6 186.6 L944.4 185.4 L945.2 184.1 L945.9 182.8 L946.7 181.5 L947.5 180.3 L948.3 179.0 L949.1 177.7 L949.9 176.5 L950.7 175.2 L951.5 174.0 L952.4 172.7 L953.2 171.4 L954.0 170.2 L954.9 168.9 L955.7 167.7" fill="none" stroke="#ff0000" stroke-width="4" stroke-linecap="round" stroke-linejoin="round"/>
<path d="M1038.1 167.2 L1038.8 168.5 L1039.6 169.9 L1040.3 171.2 L1041.0 172.5 L1041.7 173.9 L1042.4 175.2 L1043.2 176.6 L1043.9 177.9 L1044.6 179.2 L1045.3 180.6 L1046.0 181.9 L1046.7 183.3 L1047.4 184.6 L1048.1 185.9 L1048.7 187.3 L1049.4 188.6 L1050.1 190.0 L1050.8 191.3 L1051.5 192.7 L1052.1 194.0 L1052.8 195.4 L1053.5 196.7 L1054.1 198.1 L1054.8 199.4 L1055.5 200.8 L1056.1 202.1 L1056.8 203.5 L1057.4 204.8 L1058.1 206.2 L1058.7 207.5 L1059.4 208.9 L1060.0 210.3 L1060.7 211.6 L1061.3 213.0 L1061.9 214.3 L1062.6 215.7 L1063.2 217.0 L1063.8 218.4 L1064.4 219.8 L1065.1 221.1 L1065.7 222.5 L1066.3 223.8 L1066.9 225.2 L1067.5 226.6 L1068.1 227.9 L1068.7 229.3 L1069.3 230.7 L1069.9 232.0 L1070.5 233.4 L1071.1 234.8 L1071.7 236.1 L1072.3 237.5 L1072.9 238.9 L1073.5 240.2 L1074.1 241.6 L1074.7 243.0 L1075.3 244.4 L1075.9 245.7 L1076.4 247.1 L1077.0 248.5 L1077.6 249.8 L1078.2 251.2 L1078.7 252.6 L1079.3 254.0 L1079.9 255.3 L1080.4 256.7 L1081.0 258.1 L1081.6 259.5 L1082.1 260.9 L1082.7 262.2 L1083.2 263.6 L1083.8 265.0 L1084.3 266.4 L1084.9 267.8 L1085.4 269.1 L1086.0 270.5 L1086.5 271.9 L1087.1 273.3 L1087.6 274.7 L1088.2 276.1 L1088.7 277.4 L1089.2 278.8 L1089.8 280.2 L1090.3 281.6 L1090.8 283.0 L1091.4 284.4 L1091.9 285.8 L1092.4 287.1 L1092.9 288.5 L1093.5 289.9 L1094.0 291.3 L1094.5 292.7 L1095.0 294.1 L1095.5 295.5 L1096.1 296.9 L1096.6 298.3 L1097.1 299.7 L1097.6 301.1 L1098.1 302.5 L1098.6 303.9 L1099.1 305.2 L1099.6 306.6 L1100.2 308.0 L1100.7 309.4 L1101.2 310.8 L1101.7 312.2 L1102.2 313.6 L1102.7 315.0 L1103.2 316.4 L1103.7 317.8 L1104.2 319.2 L1104.7 320.6 L1105.2 322.0 L1105.7 323.4 L1106.1 324.8 L1106.6 326.2 L1107.1 327.6 L1107.6 329.0 L1108.1 330.5 L1108.6 331.9 L1109.1 333.3 L1109.6 334.7 L1110.1 336.1 L1110.5 337.5 L1111.0 338.9 L1111.5 340.3 L1112.0 341.7 L1112.5 343.1 L1113.0 344.5 L1113.4 345.9 L1113.9 347.3 L1114.4 348.7 L1114.9 350.2 L1115.4 351.6 L1115.8 353.0 L1116.3 354.4 L1116.8 355.8 L1117.3 357.2 L1117.7 358.6 L1118.2 360.0 L1118.7 361.5 L1119.2 362.9 L1119.6 364.3 L1120.1 365.7 L1120.6 367.1 L1121.0 368.5 L1121.5 370.0 L1122.0 371.4 L1122.5 372.8 L1122.9 374.2 L1123.4 375.6 L1123.9 377.0 L1124.3 378.5 L1124.8 379.9 L1125.3 381.3 L1125.7 382.7 L1126.2 384.1 L1126.7 385.6 L1127.1 387.0 L1127.6 388.4 L1128.1 389.8 L1128.5 391.3 L1129.0 392.7 L1129.5 394.1 L1129.9 395.5 L1130.4 396.9 L1130.9 398.4 L1131.3 399.8 L1131.8 401.2 L1132.3 402.6 L1132.7 404.1 L1133.2 405.5 L1133.7 406.9 L1134.2 408.4 L1134.6 409.8 L1135.1 411.2 L1135.6 412.6 L1136.0 414.1 L1136.5 415.5 L1137.0 416.9 L1137.4 418.4 L1137.9 419.8 L1138.4 421.2 L1138.8 422.6 L1139.3 424.1 L1139.8 425.5 L1140.2 426.9 L1140.7 428.4 L1141.2 429.8 L1141.7 431.2 L1142.1 432.7 L1142.6 434.1 L1143.1 435.5 L1143.6 437.0 L1144.0 438.4 L1144.5 439.8 L1145.0 441.3 L1145.5 442.7 L1145.9 444.1 L1146.4 445.6 L1146.9 447.0 L1147.4 448.4 L1147.8 449.9 L1148.3 451.3 L1148.8 452.8 L1149.3 454.2 L1149.8 455.6 L1150.2 457.1 L1150.7 458.5 L1151.2 459.9 L1151.7 461.4 L1152.2 462.8 L1152.7 464.3 L1153.2 465.7 L1153.6 467.1 L1154.1 468.6 L1154.6 470.0 L1155.1 471.5 L1155.6 472.9 L1156.1 474.3 L1156.6 475.8 L1157.1 477.2 L1157.6 478.7 L1158.1 480.1 L1158.6 481.5 L1159.1 483.0 L1159.6 484.4 L1160.1 485.9 L1160.6 487.3 L1161.1 488.7 L1161.6 490.2 L1162.2 491.6 L1162.7 493.0 L1163.2 494.5 L1163.7 495.9 L1164.2 497.3 L1164.8 498.7 L1165.3 500.2 L1165.8 501.6 L1166.3 503.0 L1166.9 504.4 L1167.4 505.9 L1168.0 507.3 L1168.5 508.7 L1169.1 510.1 L1169.6 511.5 L1170.2 513.0 L1170.7 514.4 L1171.3 515.8 L1171.8 517.2 L1172.4 518.6 L1173.0 520.0 L1173.5 521.4 L1174.1 522.8 L1174.7 524.2 L1175.3 525.6 L1175.8 527.0 L1176.4 528.4 L1177.0 529.8 L1177.6 531.2 L1178.2 532.5 L1178.8 533.9 L1179.4 535.3 L1180.0 536.7 L1180.7 538.1 L1181.3 539.4 L1181.9 540.8 L1182.5 542.2 L1183.2 543.5 L1183.8 544.9 L1184.4 546.2 L1185.1 547.6 L1185.7 548.9 L1186.4 550.3 L1187.0 551.6 L1187.7 553.0 L1188.4 554.3 L1189.0 555.6 L1189.7 557.0 L1190.4 558.3 L1191.1 559.6 L1191.8 560.9 L1192.5 562.2 L1193.2 563.6 L1193.9 564.9 L1194.6 566.2 L1195.3 567.5 L1196.0 568.8 L1196.8 570.0 L1197.5 571.3 L1198.3 572.6 L1199.0 573.9 L1199.8 575.2 L1200.5 576.4 L1201.3 577.7 L1202.0 578.9 L1202.8 580.2 L1203.6 581.5 L1204.4 582.7 L1205.2 583.9 L1206.0 585.2 L1206.8 586.4 L1207.6 587.6 L1208.4 588.8 L1209.2 590.1 L1210.1 591.3 L1210.9 592.5 L1211.8 593.7 L1212.6 594.9 L1213.5 596.1 L1214.3 597.2 L1215.2 598.4 L1216.1 599.6 L1217.0 600.8 L1217.9 601.9 L1218.8 603.1 L1219.7 604.2 L1220.6 605.4 L1221.5 606.5 L1222.4 607.6 L1223.4 608.8 L1224.3 609.9 L1225.3 611.0 L1226.2 612.1 L1227.2 613.2 L1228.2 614.3 L1229.2 615.4 L1230.2 616.5 L1231.2 617.5 L1232.2 618.6 L1233.2 619.7 L1234.2 620.7 L1235.2 621.8 L1236.3 622.8 L1237.3 623.9 L1238.4 624.9 L1239.4 625.9 L1240.5 626.9 L1241.6 627.9 L1242.7 628.9 L1243.8 629.9 L1244.9 630.9 L1246.0 631.9 L1247.1 632.8 L1248.3 633.8 L1249.4 634.7 L1250.6 635.7 L1251.7 636.6 L1252.9 637.5 L1254.1 638.4 L1255.3 639.3 L1256.5 640.2 L1257.7 641.0 L1258.9 641.9 L1260.2 642.8 L1261.4 643.6 L1262.7 644.4 L1263.9 645.2 L1265.2 646.0 L1266.5 646.8 L1267.8 647.6 L1269.1 648.3 L1270.4 649.0 L1271.7 649.8 L1273.1 650.5 L1274.4 651.2 L1275.8 651.8 L1277.2 652.5 L1278.6 653.2 L1280.0 653.8 L1281.4 654.4 L1282.8 655.0 L1284.2 655.6 L1285.7 656.1 L1287.1 656.7 L1288.6 657.2" fill="none" stroke="#ff0000" stroke-width="4" stroke-linecap="round" stroke-linejoin="round"/>
<text x="948.00" y="211.00" fill="#ff0000" stroke="#ff0000" font-size="38" textLength="97.42" lengthAdjust="spacing">100 A</text>
<text x="953.10" y="305.60" fill="#ff0000" stroke="#ff0000" font-size="38" textLength="77.88" lengthAdjust="spacing">90 A</text>
<text x="944.90" y="408.60" fill="#ff0000" stroke="#ff0000" font-size="38" textLength="75.08" lengthAdjust="spacing">80 A</text>
<line x1="156.00" y1="1089.00" x2="156.00" y2="1667.80" stroke="#000" stroke-width="2"/>
<line x1="155.00" y1="1666.80" x2="830.00" y2="1666.80" stroke="#000" stroke-width="2"/>
<line x1="156.00" y1="1666.80" x2="175.00" y2="1666.80" stroke="#000" stroke-width="2"/>
<text x="137.0" y="1679.6" text-anchor="end" fill="#000" stroke="#000" font-size="38">0</text>
<line x1="156.00" y1="1594.70" x2="175.00" y2="1594.70" stroke="#000" stroke-width="2"/>
<text x="137.0" y="1607.5" text-anchor="end" fill="#000" stroke="#000" font-size="38">25</text>
<line x1="156.00" y1="1522.60" x2="175.00" y2="1522.60" stroke="#000" stroke-width="2"/>
<text x="137.0" y="1535.4" text-anchor="end" fill="#000" stroke="#000" font-size="38">50</text>
<line x1="156.00" y1="1450.50" x2="175.00" y2="1450.50" stroke="#000" stroke-width="2"/>
<text x="137.0" y="1463.3" text-anchor="end" fill="#000" stroke="#000" font-size="38">75</text>
<line x1="156.00" y1="1378.40" x2="175.00" y2="1378.40" stroke="#000" stroke-width="2"/>
<text x="137.0" y="1391.2" text-anchor="end" fill="#000" stroke="#000" font-size="38">100</text>
<line x1="156.00" y1="1306.30" x2="175.00" y2="1306.30" stroke="#000" stroke-width="2"/>
<text x="137.0" y="1319.1" text-anchor="end" fill="#000" stroke="#000" font-size="38">125</text>
<line x1="156.00" y1="1234.20" x2="175.00" y2="1234.20" stroke="#000" stroke-width="2"/>
<text x="137.0" y="1247.0" text-anchor="end" fill="#000" stroke="#000" font-size="38">150</text>
<line x1="156.00" y1="1162.10" x2="175.00" y2="1162.10" stroke="#000" stroke-width="2"/>
<text x="137.0" y="1174.9" text-anchor="end" fill="#000" stroke="#000" font-size="38">175</text>
<line x1="156.00" y1="1090.00" x2="177.50" y2="1090.00" stroke="#000" stroke-width="2"/>
<text x="137.0" y="1102.8" text-anchor="end" fill="#000" stroke="#000" font-size="38">200</text>
<line x1="156.00" y1="1666.80" x2="156.00" y2="1648.30" stroke="#000" stroke-width="2"/>
<text x="156.0" y="1720.0" text-anchor="middle" fill="#000" stroke="#000" font-size="38">0</text>
<line x1="290.60" y1="1666.80" x2="290.60" y2="1648.30" stroke="#000" stroke-width="2"/>
<text x="290.6" y="1720.0" text-anchor="middle" fill="#000" stroke="#000" font-size="38">2</text>
<line x1="425.20" y1="1666.80" x2="425.20" y2="1648.30" stroke="#000" stroke-width="2"/>
<text x="425.2" y="1720.0" text-anchor="middle" fill="#000" stroke="#000" font-size="38">4</text>
<line x1="559.80" y1="1666.80" x2="559.80" y2="1648.30" stroke="#000" stroke-width="2"/>
<text x="559.8" y="1720.0" text-anchor="middle" fill="#000" stroke="#000" font-size="38">6</text>
<line x1="694.40" y1="1666.80" x2="694.40" y2="1648.30" stroke="#000" stroke-width="2"/>
<text x="694.4" y="1720.0" text-anchor="middle" fill="#000" stroke="#000" font-size="38">8</text>
<line x1="829.00" y1="1666.80" x2="829.00" y2="1648.30" stroke="#000" stroke-width="2"/>
<text x="829.0" y="1720.0" text-anchor="middle" fill="#000" stroke="#000" font-size="38">10</text>
<line x1="156.00" y1="1161.20" x2="858.30" y2="1161.20" stroke="#000" stroke-width="2.2" stroke-dasharray="19.4 6.03" stroke-dashoffset="3.9"/>
<text x="177.00" y="1148.80" fill="#000" stroke="#000" font-size="38" textLength="250.57" lengthAdjust="spacing">Max. operating</text>
<text x="177.90" y="1190.60" fill="#000" stroke="#000" font-size="38" textLength="203.89" lengthAdjust="spacing">temperature</text>
<text x="407.40" y="1786.80" fill="#000" stroke="#000" font-size="38" textLength="170.56" lengthAdjust="spacing">Time (ms)</text>
<text transform="translate(32.50 1628.90) rotate(-90)" fill="#000" stroke="#000" font-size="38" textLength="502.58" lengthAdjust="spacing">Chip Temperature, <tspan font-style="italic">T</tspan><tspan font-style="italic" font-size="35" dy="8">chip</tspan><tspan dy="-8"> (</tspan><tspan dy="-12">o</tspan><tspan dy="12">C)</tspan></text>
<text x="151.60" y="952.00" fill="#000" stroke="#000" font-size="38" textLength="438.76" lengthAdjust="spacing"><tspan font-weight="bold">b.</tspan> Chip thickness: 350 <tspan font-family="&apos;Liberation Serif&apos;, &apos;Times New Roman&apos;, serif">&#956;</tspan>m</text>
<text x="191.00" y="1005.50" fill="#000" stroke="#000" font-size="38" textLength="580.40" lengthAdjust="spacing">Active area: 8.6 mm<tspan font-size="24" dy="-17">2</tspan><tspan dy="17"> (R=25.6 m</tspan><tspan font-family="&apos;Liberation Serif&apos;, &apos;Times New Roman&apos;, serif">&#937;</tspan>)</text>
<path d="M156.1 1594.6 L157.7 1594.5 L159.2 1594.5 L160.8 1594.4 L162.3 1594.3 L163.9 1594.2 L165.4 1594.1 L167.0 1593.9 L168.5 1593.8 L170.1 1593.7 L171.6 1593.5 L173.1 1593.3 L174.6 1593.1 L176.2 1593.0 L177.7 1592.7 L179.2 1592.5 L180.7 1592.3 L182.2 1592.1 L183.7 1591.8 L185.2 1591.6 L186.7 1591.3 L188.1 1591.0 L189.6 1590.8 L191.1 1590.5 L192.6 1590.2 L194.0 1589.8 L195.5 1589.5 L196.9 1589.2 L198.4 1588.8 L199.8 1588.5 L201.3 1588.1 L202.7 1587.8 L204.2 1587.4 L205.6 1587.0 L207.0 1586.6 L208.5 1586.2 L209.9 1585.7 L211.3 1585.3 L212.7 1584.9 L214.1 1584.4 L215.5 1584.0 L216.9 1583.5 L218.3 1583.0 L219.7 1582.6 L221.1 1582.1 L222.5 1581.6 L223.9 1581.1 L225.3 1580.5 L226.6 1580.0 L228.0 1579.5 L229.4 1578.9 L230.8 1578.4 L232.1 1577.8 L233.5 1577.3 L234.8 1576.7 L236.2 1576.1 L237.5 1575.5 L238.9 1574.9 L240.2 1574.3 L241.5 1573.7 L242.9 1573.1 L244.2 1572.5 L245.5 1571.8 L246.9 1571.2 L248.2 1570.5 L249.5 1569.9 L250.8 1569.2 L252.1 1568.5 L253.4 1567.8 L254.7 1567.2 L256.0 1566.5 L257.3 1565.8 L258.6 1565.0 L259.9 1564.3 L261.2 1563.6 L262.4 1562.9 L263.7 1562.1 L265.0 1561.4 L266.3 1560.6 L267.5 1559.9 L268.8 1559.1 L270.1 1558.4 L271.3 1557.6 L272.6 1556.8 L273.8 1556.0 L275.1 1555.2 L276.3 1554.4 L277.6 1553.6 L278.8 1552.8 L280.0 1552.0 L281.3 1551.1 L282.5 1550.3 L283.7 1549.5 L285.0 1548.6 L286.2 1547.8 L287.4 1546.9 L288.6 1546.1 L289.8 1545.2 L291.0 1544.3 L292.3 1543.5 L293.5 1542.6 L294.7 1541.7 L295.9 1540.8 L297.1 1539.9 L298.2 1539.0 L299.4 1538.1 L300.6 1537.2 L301.8 1536.3 L303.0 1535.4 L304.2 1534.4 L305.3 1533.5 L306.5 1532.6 L307.7 1531.6 L308.9 1530.7 L310.0 1529.7 L311.2 1528.8 L312.3 1527.8 L313.5 1526.9 L314.7 1525.9 L315.8 1524.9 L317.0 1523.9 L318.1 1523.0 L319.3 1522.0 L320.4 1521.0 L321.5 1520.0 L322.7 1519.0 L323.8 1518.0 L324.9 1517.0 L326.1 1516.0 L327.2 1515.0 L328.3 1514.0 L329.4 1513.0 L330.6 1512.0 L331.7 1510.9 L332.8 1509.9 L333.9 1508.9 L335.0 1507.9 L336.1 1506.8 L337.2 1505.8 L338.3 1504.8 L339.5 1503.7 L340.6 1502.7 L341.6 1501.6 L342.7 1500.6 L343.8 1499.5 L344.9 1498.5 L346.0 1497.4 L347.1 1496.3 L348.2 1495.3 L349.3 1494.2 L350.4 1493.2 L351.4 1492.1 L352.5 1491.0 L353.6 1489.9 L354.7 1488.9 L355.7 1487.8 L356.8 1486.7 L357.9 1485.6 L358.9 1484.5 L360.0 1483.5 L361.1 1482.4 L362.1 1481.3 L363.2 1480.2 L364.2 1479.1 L365.3 1478.0 L366.3 1476.9 L367.4 1475.8 L368.4 1474.7 L369.5 1473.6 L370.5 1472.5 L371.6 1471.4 L372.6 1470.3 L373.7 1469.2 L374.7 1468.1 L375.7 1467.0 L376.8 1465.9 L377.8 1464.8 L378.8 1463.7 L379.9 1462.6 L380.9 1461.5 L381.9 1460.4 L383.0 1459.3 L384.0 1458.2 L385.0 1457.1 L386.1 1456.0 L387.1 1454.9 L388.1 1453.8 L389.2 1452.7 L390.2 1451.6 L391.3 1450.5 L392.3 1449.5 L393.3 1448.4 L394.4 1447.3 L395.4 1446.2 L396.4 1445.1 L397.5 1444.0 L398.5 1442.9 L399.6 1441.9 L400.6 1440.8 L401.6 1439.7 L402.7 1438.6 L403.7 1437.6 L404.8 1436.5 L405.8 1435.4 L406.9 1434.4 L407.9 1433.3 L409.0 1432.2 L410.1 1431.2 L411.1 1430.1 L412.2 1429.1 L413.2 1428.0 L414.3 1427.0 L415.4 1426.0 L416.5 1424.9 L417.5 1423.9 L418.6 1422.9 L419.7 1421.9 L420.8 1420.9 L421.9 1419.8 L423.0 1418.8 L424.1 1417.8 L425.2 1416.8 L426.3 1415.8 L427.4 1414.9 L428.5 1413.9 L429.6 1412.9 L430.7 1411.9 L431.8 1411.0 L433.0 1410.0 L434.1 1409.0 L435.2 1408.1 L436.4 1407.1 L437.5 1406.2 L438.7 1405.3 L439.8 1404.3 L441.0 1403.4 L442.2 1402.5 L443.3 1401.6 L444.5 1400.7 L445.7 1399.8 L446.9 1398.9 L448.1 1398.0 L449.3 1397.2 L450.5 1396.3 L451.7 1395.4 L452.9 1394.6 L454.1 1393.7 L455.4 1392.9 L456.6 1392.1 L457.8 1391.3 L459.1 1390.4 L460.3 1389.6 L461.6 1388.8 L462.9 1388.1 L464.1 1387.3 L465.4 1386.5 L466.7 1385.7 L468.0 1385.0 L469.3 1384.2 L470.6 1383.5 L471.9 1382.8 L473.3 1382.0 L474.6 1381.3 L475.9 1380.6 L477.3 1379.9 L478.6 1379.3 L480.0 1378.6 L481.4 1377.9 L482.8 1377.3 L484.1 1376.6 L485.5 1376.0 L486.9 1375.4 L488.3 1374.8 L489.8 1374.2 L491.2 1373.6 L492.6 1373.0 L494.0 1372.4 L495.4 1371.9 L496.9 1371.3 L498.3 1370.8 L499.8 1370.3 L501.2 1369.8 L502.7 1369.3 L504.1 1368.8 L505.6 1368.4 L507.1 1367.9 L508.5 1367.5 L510.0 1367.0 L511.5 1366.6 L512.9 1366.2 L514.4 1365.9 L515.9 1365.5 L517.4 1365.1 L518.8 1364.8 L520.3 1364.5 L521.8 1364.2 L523.3 1363.9 L524.8 1363.6 L526.3 1363.3 L527.7 1363.1 L529.2 1362.8 L530.7 1362.6 L532.2 1362.4 L533.7 1362.2 L535.2 1362.1 L536.6 1361.9 L538.1 1361.8 L539.6 1361.7 L541.1 1361.6 L542.5 1361.5 L544.0 1361.4 L545.5 1361.4 L547.0 1361.4 L548.4 1361.4 L549.9 1361.4 L551.3 1361.4 L552.8 1361.4 L554.2 1361.5 L555.7 1361.6 L557.2 1361.7 L558.6 1361.8 L560.0 1361.9 L561.5 1362.0 L562.9 1362.2 L564.4 1362.3 L565.8 1362.5 L567.2 1362.7 L568.7 1362.9 L570.1 1363.2 L571.5 1363.4 L572.9 1363.7 L574.4 1363.9 L575.8 1364.2 L577.2 1364.5 L578.6 1364.9 L580.0 1365.2 L581.4 1365.5 L582.9 1365.9 L584.3 1366.2 L585.7 1366.6 L587.1 1367.0 L588.5 1367.4 L589.9 1367.8 L591.3 1368.3 L592.7 1368.7 L594.0 1369.2 L595.4 1369.6 L596.8 1370.1 L598.2 1370.6 L599.6 1371.1 L601.0 1371.6 L602.3 1372.2 L603.7 1372.7 L605.1 1373.2 L606.5 1373.8 L607.8 1374.4 L609.2 1374.9 L610.6 1375.5 L611.9 1376.1 L613.3 1376.7 L614.6 1377.4 L616.0 1378.0 L617.3 1378.6 L618.7 1379.3 L620.0 1379.9 L621.4 1380.6 L622.7 1381.2 L624.1 1381.9 L625.4 1382.6 L626.7 1383.3 L628.1 1384.0 L629.4 1384.7 L630.7 1385.5 L632.0 1386.2 L633.4 1386.9 L634.7 1387.7 L636.0 1388.4 L637.3 1389.2 L638.6 1389.9 L640.0 1390.7 L641.3 1391.5 L642.6 1392.3 L643.9 1393.1 L645.2 1393.8 L646.5 1394.6 L647.8 1395.5 L649.1 1396.3 L650.4 1397.1 L651.7 1397.9 L653.0 1398.7 L654.2 1399.6 L655.5 1400.4 L656.8 1401.2 L658.1 1402.1 L659.4 1402.9 L660.7 1403.8 L661.9 1404.7 L663.2 1405.5 L664.5 1406.4 L665.7 1407.3 L667.0 1408.1 L668.3 1409.0 L669.5 1409.9 L670.8 1410.8 L672.0 1411.6 L673.3 1412.5 L674.5 1413.4 L675.8 1414.3 L677.0 1415.2 L678.3 1416.1 L679.5 1417.0 L680.8 1417.9 L682.0 1418.8 L683.2 1419.7 L684.5 1420.6 L685.7 1421.5 L686.9 1422.4 L688.1 1423.3 L689.4 1424.2 L690.6 1425.1 L691.8 1426.0 L693.0 1426.9 L694.2 1427.8 L695.5 1428.7 L696.7 1429.6 L697.9 1430.5 L699.1 1431.4 L700.3 1432.3 L701.5 1433.2 L702.7 1434.1 L703.9 1435.0 L705.1 1435.9 L706.3 1436.8 L707.5 1437.7 L708.7 1438.6 L709.9 1439.5 L711.1 1440.4 L712.3 1441.3 L713.5 1442.2 L714.7 1443.1 L715.9 1444.0 L717.0 1444.9 L718.2 1445.8 L719.4 1446.7 L720.6 1447.5 L721.8 1448.4 L723.0 1449.3 L724.2 1450.2 L725.4 1451.1 L726.6 1451.9 L727.8 1452.8 L729.0 1453.7 L730.2 1454.6 L731.4 1455.4 L732.5 1456.3 L733.7 1457.2 L734.9 1458.0 L736.1 1458.9 L737.3 1459.7 L738.5 1460.6 L739.7 1461.4 L740.9 1462.3 L742.1 1463.1 L743.3 1464.0 L744.5 1464.8 L745.8 1465.7 L747.0 1466.5 L748.2 1467.3 L749.4 1468.2 L750.6 1469.0 L751.8 1469.8 L753.0 1470.6 L754.3 1471.4 L755.5 1472.3 L756.7 1473.1 L757.9 1473.9 L759.2 1474.7 L760.4 1475.5 L761.6 1476.3 L762.9 1477.1 L764.1 1477.8 L765.4 1478.6 L766.6 1479.4 L767.9 1480.2 L769.1 1480.9 L770.4 1481.7 L771.7 1482.5 L772.9 1483.2 L774.2 1484.0 L775.5 1484.7 L776.7 1485.5 L778.0 1486.2 L779.3 1486.9 L780.6 1487.7 L781.9 1488.4 L783.2 1489.1 L784.5 1489.8 L785.8 1490.5 L787.1 1491.2 L788.4 1491.9 L789.7 1492.6 L791.1 1493.3 L792.4 1494.0 L793.7 1494.7 L795.1 1495.3 L796.4 1496.0 L797.7 1496.7 L799.1 1497.3 L800.5 1498.0 L801.8 1498.6 L803.2 1499.3 L804.6 1499.9 L806.0 1500.5 L807.3 1501.1 L808.7 1501.7 L810.1 1502.3 L811.5 1502.9 L813.0 1503.5 L814.4 1504.1 L815.8 1504.7 L817.2 1505.3 L818.7 1505.8 L820.1 1506.4 L821.6 1506.9 L823.0 1507.5 L824.5 1508.0 L825.9 1508.6 L827.4 1509.1 L828.9 1509.6" fill="none" stroke="#ff0000" stroke-width="4" stroke-linecap="round" stroke-linejoin="round"/>
<path d="M156.1 1594.6 L157.7 1594.6 L159.2 1594.5 L160.8 1594.4 L162.4 1594.3 L163.9 1594.2 L165.5 1594.1 L167.0 1594.0 L168.5 1593.8 L170.1 1593.7 L171.6 1593.5 L173.1 1593.3 L174.6 1593.1 L176.1 1592.9 L177.6 1592.7 L179.1 1592.5 L180.6 1592.2 L182.1 1592.0 L183.6 1591.7 L185.1 1591.4 L186.6 1591.1 L188.0 1590.8 L189.5 1590.5 L190.9 1590.2 L192.4 1589.8 L193.8 1589.5 L195.3 1589.1 L196.7 1588.7 L198.2 1588.3 L199.6 1587.9 L201.0 1587.5 L202.4 1587.1 L203.8 1586.7 L205.2 1586.2 L206.6 1585.8 L208.0 1585.3 L209.4 1584.8 L210.8 1584.3 L212.2 1583.8 L213.6 1583.3 L215.0 1582.8 L216.3 1582.3 L217.7 1581.7 L219.0 1581.2 L220.4 1580.6 L221.7 1580.0 L223.1 1579.4 L224.4 1578.8 L225.8 1578.2 L227.1 1577.6 L228.4 1577.0 L229.7 1576.4 L231.1 1575.7 L232.4 1575.1 L233.7 1574.4 L235.0 1573.7 L236.3 1573.1 L237.6 1572.4 L238.9 1571.7 L240.2 1571.0 L241.4 1570.3 L242.7 1569.5 L244.0 1568.8 L245.3 1568.1 L246.5 1567.3 L247.8 1566.6 L249.0 1565.8 L250.3 1565.0 L251.5 1564.2 L252.8 1563.4 L254.0 1562.6 L255.3 1561.8 L256.5 1561.0 L257.7 1560.2 L258.9 1559.4 L260.2 1558.5 L261.4 1557.7 L262.6 1556.8 L263.8 1556.0 L265.0 1555.1 L266.2 1554.2 L267.4 1553.3 L268.6 1552.4 L269.8 1551.5 L270.9 1550.6 L272.1 1549.7 L273.3 1548.8 L274.5 1547.9 L275.6 1547.0 L276.8 1546.0 L277.9 1545.1 L279.1 1544.1 L280.3 1543.2 L281.4 1542.2 L282.5 1541.3 L283.7 1540.3 L284.8 1539.3 L285.9 1538.3 L287.1 1537.3 L288.2 1536.3 L289.3 1535.3 L290.4 1534.3 L291.6 1533.3 L292.7 1532.3 L293.8 1531.3 L294.9 1530.3 L296.0 1529.2 L297.1 1528.2 L298.2 1527.1 L299.3 1526.1 L300.3 1525.0 L301.4 1524.0 L302.5 1522.9 L303.6 1521.9 L304.6 1520.8 L305.7 1519.7 L306.8 1518.6 L307.8 1517.6 L308.9 1516.5 L310.0 1515.4 L311.0 1514.3 L312.1 1513.2 L313.1 1512.1 L314.1 1511.0 L315.2 1509.9 L316.2 1508.8 L317.3 1507.7 L318.3 1506.6 L319.3 1505.4 L320.3 1504.3 L321.4 1503.2 L322.4 1502.1 L323.4 1500.9 L324.4 1499.8 L325.4 1498.7 L326.4 1497.5 L327.4 1496.4 L328.4 1495.2 L329.4 1494.1 L330.4 1492.9 L331.4 1491.8 L332.4 1490.6 L333.4 1489.5 L334.3 1488.3 L335.3 1487.2 L336.3 1486.0 L337.3 1484.8 L338.2 1483.7 L339.2 1482.5 L340.2 1481.4 L341.1 1480.2 L342.1 1479.0 L343.1 1477.8 L344.0 1476.7 L345.0 1475.5 L345.9 1474.3 L346.9 1473.2 L347.8 1472.0 L348.8 1470.8 L349.7 1469.6 L350.6 1468.5 L351.6 1467.3 L352.5 1466.1 L353.4 1464.9 L354.4 1463.8 L355.3 1462.6 L356.2 1461.4 L357.1 1460.2 L358.0 1459.1 L359.0 1457.9 L359.9 1456.7 L360.8 1455.5 L361.7 1454.3 L362.6 1453.2 L363.5 1452.0 L364.4 1450.8 L365.3 1449.6 L366.2 1448.5 L367.1 1447.3 L368.0 1446.1 L368.9 1444.9 L369.8 1443.7 L370.7 1442.6 L371.6 1441.4 L372.5 1440.2 L373.4 1439.0 L374.3 1437.8 L375.2 1436.6 L376.1 1435.5 L377.0 1434.3 L377.9 1433.1 L378.8 1431.9 L379.7 1430.7 L380.6 1429.6 L381.5 1428.4 L382.4 1427.2 L383.3 1426.0 L384.2 1424.8 L385.1 1423.6 L386.0 1422.5 L386.9 1421.3 L387.8 1420.1 L388.7 1418.9 L389.6 1417.7 L390.5 1416.6 L391.4 1415.4 L392.3 1414.2 L393.2 1413.0 L394.1 1411.8 L395.0 1410.6 L395.9 1409.5 L396.8 1408.3 L397.7 1407.1 L398.6 1405.9 L399.5 1404.7 L400.4 1403.6 L401.3 1402.4 L402.3 1401.2 L403.2 1400.0 L404.1 1398.8 L405.0 1397.7 L405.9 1396.5 L406.9 1395.3 L407.8 1394.1 L408.7 1392.9 L409.7 1391.8 L410.6 1390.6 L411.5 1389.4 L412.5 1388.2 L413.4 1387.1 L414.3 1385.9 L415.3 1384.7 L416.2 1383.5 L417.2 1382.3 L418.1 1381.2 L419.1 1380.0 L420.1 1378.8 L421.0 1377.6 L422.0 1376.5 L423.0 1375.3 L423.9 1374.1 L424.9 1373.0 L425.9 1371.8 L426.9 1370.6 L427.9 1369.4 L428.9 1368.3 L429.9 1367.1 L430.9 1366.0 L431.9 1364.8 L432.9 1363.6 L433.9 1362.5 L434.9 1361.3 L435.9 1360.2 L436.9 1359.1 L438.0 1357.9 L439.0 1356.8 L440.0 1355.7 L441.1 1354.5 L442.1 1353.4 L443.2 1352.3 L444.2 1351.2 L445.3 1350.1 L446.4 1349.0 L447.4 1347.9 L448.5 1346.8 L449.6 1345.7 L450.7 1344.6 L451.8 1343.6 L452.9 1342.5 L454.0 1341.5 L455.1 1340.4 L456.2 1339.4 L457.3 1338.3 L458.4 1337.3 L459.6 1336.3 L460.7 1335.3 L461.8 1334.3 L463.0 1333.3 L464.1 1332.3 L465.3 1331.3 L466.5 1330.3 L467.6 1329.4 L468.8 1328.4 L470.0 1327.5 L471.2 1326.6 L472.4 1325.6 L473.6 1324.7 L474.8 1323.8 L476.0 1323.0 L477.3 1322.1 L478.5 1321.2 L479.7 1320.4 L481.0 1319.5 L482.2 1318.7 L483.5 1317.9 L484.8 1317.1 L486.0 1316.3 L487.3 1315.5 L488.6 1314.7 L489.9 1313.9 L491.2 1313.2 L492.5 1312.5 L493.8 1311.7 L495.1 1311.0 L496.4 1310.3 L497.8 1309.7 L499.1 1309.0 L500.4 1308.4 L501.8 1307.7 L503.1 1307.1 L504.5 1306.5 L505.8 1305.9 L507.2 1305.3 L508.6 1304.7 L509.9 1304.2 L511.3 1303.7 L512.7 1303.1 L514.1 1302.6 L515.5 1302.2 L516.9 1301.7 L518.3 1301.2 L519.7 1300.8 L521.1 1300.4 L522.5 1300.0 L523.9 1299.6 L525.3 1299.2 L526.7 1298.8 L528.1 1298.5 L529.5 1298.2 L531.0 1297.9 L532.4 1297.6 L533.8 1297.3 L535.2 1297.1 L536.7 1296.8 L538.1 1296.6 L539.5 1296.4 L541.0 1296.3 L542.4 1296.1 L543.9 1296.0 L545.3 1295.8 L546.7 1295.7 L548.2 1295.7 L549.6 1295.6 L551.1 1295.6 L552.5 1295.5 L554.0 1295.5 L555.4 1295.5 L556.9 1295.6 L558.3 1295.6 L559.8 1295.7 L561.2 1295.8 L562.7 1295.9 L564.1 1296.0 L565.6 1296.1 L567.0 1296.3 L568.5 1296.5 L569.9 1296.7 L571.3 1296.9 L572.8 1297.1 L574.2 1297.3 L575.7 1297.6 L577.1 1297.9 L578.5 1298.2 L580.0 1298.5 L581.4 1298.8 L582.8 1299.1 L584.3 1299.5 L585.7 1299.9 L587.1 1300.2 L588.5 1300.6 L590.0 1301.1 L591.4 1301.5 L592.8 1301.9 L594.2 1302.4 L595.6 1302.9 L597.0 1303.4 L598.4 1303.9 L599.8 1304.4 L601.2 1304.9 L602.6 1305.5 L604.0 1306.0 L605.3 1306.6 L606.7 1307.2 L608.1 1307.8 L609.4 1308.4 L610.8 1309.0 L612.1 1309.7 L613.5 1310.3 L614.8 1311.0 L616.2 1311.7 L617.5 1312.3 L618.8 1313.0 L620.2 1313.8 L621.5 1314.5 L622.8 1315.2 L624.1 1316.0 L625.4 1316.7 L626.7 1317.5 L628.0 1318.3 L629.2 1319.1 L630.5 1319.9 L631.8 1320.7 L633.0 1321.5 L634.3 1322.3 L635.6 1323.2 L636.8 1324.0 L638.1 1324.9 L639.3 1325.7 L640.5 1326.6 L641.8 1327.5 L643.0 1328.4 L644.2 1329.3 L645.4 1330.2 L646.6 1331.1 L647.8 1332.0 L649.0 1333.0 L650.2 1333.9 L651.4 1334.9 L652.6 1335.8 L653.8 1336.8 L655.0 1337.7 L656.2 1338.7 L657.3 1339.7 L658.5 1340.6 L659.7 1341.6 L660.8 1342.6 L662.0 1343.6 L663.2 1344.6 L664.3 1345.6 L665.5 1346.6 L666.6 1347.7 L667.8 1348.7 L668.9 1349.7 L670.0 1350.7 L671.2 1351.7 L672.3 1352.8 L673.4 1353.8 L674.6 1354.8 L675.7 1355.9 L676.8 1356.9 L677.9 1358.0 L679.0 1359.0 L680.2 1360.1 L681.3 1361.1 L682.4 1362.2 L683.5 1363.2 L684.6 1364.3 L685.7 1365.3 L686.8 1366.4 L687.9 1367.4 L689.0 1368.5 L690.1 1369.5 L691.2 1370.6 L692.3 1371.6 L693.4 1372.7 L694.5 1373.7 L695.6 1374.8 L696.7 1375.8 L697.8 1376.9 L698.9 1377.9 L700.0 1379.0 L701.1 1380.0 L702.2 1381.1 L703.2 1382.1 L704.3 1383.1 L705.4 1384.2 L706.5 1385.2 L707.6 1386.3 L708.7 1387.3 L709.8 1388.3 L710.8 1389.4 L711.9 1390.4 L713.0 1391.5 L714.1 1392.5 L715.2 1393.5 L716.3 1394.6 L717.4 1395.6 L718.4 1396.6 L719.5 1397.6 L720.6 1398.7 L721.7 1399.7 L722.8 1400.7 L723.9 1401.7 L725.0 1402.8 L726.0 1403.8 L727.1 1404.8 L728.2 1405.8 L729.3 1406.8 L730.4 1407.8 L731.5 1408.8 L732.6 1409.8 L733.7 1410.8 L734.8 1411.8 L735.9 1412.8 L737.0 1413.8 L738.1 1414.8 L739.2 1415.8 L740.3 1416.8 L741.4 1417.8 L742.5 1418.8 L743.6 1419.8 L744.7 1420.8 L745.8 1421.7 L746.9 1422.7 L748.0 1423.7 L749.1 1424.7 L750.3 1425.6 L751.4 1426.6 L752.5 1427.6 L753.6 1428.5 L754.8 1429.5 L755.9 1430.4 L757.0 1431.4 L758.2 1432.3 L759.3 1433.3 L760.4 1434.2 L761.6 1435.2 L762.7 1436.1 L763.9 1437.0 L765.0 1437.9 L766.2 1438.9 L767.3 1439.8 L768.5 1440.7 L769.6 1441.6 L770.8 1442.5 L772.0 1443.5 L773.1 1444.4 L774.3 1445.3 L775.5 1446.2 L776.7 1447.1 L777.9 1447.9 L779.1 1448.8 L780.2 1449.7 L781.4 1450.6 L782.6 1451.5 L783.8 1452.3 L785.1 1453.2 L786.3 1454.1 L787.5 1454.9 L788.7 1455.8 L789.9 1456.6 L791.2 1457.5 L792.4 1458.3 L793.6 1459.2 L794.9 1460.0 L796.1 1460.8 L797.4 1461.6 L798.6 1462.5 L799.9 1463.3 L801.1 1464.1 L802.4 1464.9 L803.7 1465.7 L805.0 1466.5 L806.3 1467.3 L807.5 1468.1 L808.8 1468.9 L810.1 1469.6 L811.4 1470.4 L812.7 1471.2 L814.1 1471.9 L815.4 1472.7 L816.7 1473.5 L818.0 1474.2 L819.4 1474.9 L820.7 1475.7 L822.1 1476.4 L823.4 1477.1 L824.8 1477.9 L826.2 1478.6 L827.5 1479.3 L828.9 1480.0" fill="none" stroke="#ff0000" stroke-width="4" stroke-linecap="round" stroke-linejoin="round"/>
<path d="M156.1 1594.6 L157.7 1594.6 L159.2 1594.7 L160.8 1594.7 L162.3 1594.6 L163.9 1594.6 L165.4 1594.6 L167.0 1594.5 L168.5 1594.4 L170.0 1594.3 L171.5 1594.2 L173.0 1594.0 L174.5 1593.9 L176.0 1593.7 L177.5 1593.5 L179.0 1593.3 L180.5 1593.0 L182.0 1592.8 L183.5 1592.5 L184.9 1592.2 L186.4 1591.9 L187.9 1591.6 L189.3 1591.3 L190.8 1590.9 L192.2 1590.6 L193.7 1590.2 L195.1 1589.8 L196.5 1589.4 L197.9 1589.0 L199.4 1588.5 L200.8 1588.1 L202.2 1587.6 L203.6 1587.1 L205.0 1586.7 L206.4 1586.1 L207.7 1585.6 L209.1 1585.1 L210.5 1584.5 L211.9 1584.0 L213.2 1583.4 L214.6 1582.8 L215.9 1582.2 L217.3 1581.6 L218.6 1581.0 L220.0 1580.3 L221.3 1579.7 L222.6 1579.0 L223.9 1578.3 L225.2 1577.6 L226.5 1576.9 L227.9 1576.2 L229.1 1575.5 L230.4 1574.8 L231.7 1574.0 L233.0 1573.3 L234.3 1572.5 L235.6 1571.7 L236.8 1571.0 L238.1 1570.2 L239.3 1569.4 L240.6 1568.5 L241.8 1567.7 L243.1 1566.9 L244.3 1566.0 L245.5 1565.2 L246.8 1564.3 L248.0 1563.5 L249.2 1562.6 L250.4 1561.7 L251.6 1560.8 L252.8 1559.9 L254.0 1559.0 L255.2 1558.1 L256.3 1557.1 L257.5 1556.2 L258.7 1555.3 L259.8 1554.3 L261.0 1553.4 L262.2 1552.4 L263.3 1551.4 L264.4 1550.5 L265.6 1549.5 L266.7 1548.5 L267.8 1547.5 L269.0 1546.5 L270.1 1545.5 L271.2 1544.5 L272.3 1543.5 L273.4 1542.5 L274.5 1541.5 L275.6 1540.4 L276.6 1539.4 L277.7 1538.4 L278.8 1537.3 L279.9 1536.3 L280.9 1535.2 L282.0 1534.2 L283.0 1533.1 L284.1 1532.0 L285.1 1531.0 L286.2 1529.9 L287.2 1528.8 L288.2 1527.7 L289.2 1526.6 L290.3 1525.5 L291.3 1524.4 L292.3 1523.3 L293.3 1522.2 L294.3 1521.1 L295.3 1520.0 L296.3 1518.9 L297.3 1517.8 L298.3 1516.6 L299.2 1515.5 L300.2 1514.4 L301.2 1513.2 L302.2 1512.1 L303.1 1511.0 L304.1 1509.8 L305.0 1508.7 L306.0 1507.5 L306.9 1506.3 L307.9 1505.2 L308.8 1504.0 L309.8 1502.8 L310.7 1501.7 L311.6 1500.5 L312.6 1499.3 L313.5 1498.1 L314.4 1497.0 L315.3 1495.8 L316.3 1494.6 L317.2 1493.4 L318.1 1492.2 L319.0 1491.0 L319.9 1489.8 L320.8 1488.6 L321.7 1487.4 L322.6 1486.2 L323.5 1485.0 L324.3 1483.8 L325.2 1482.5 L326.1 1481.3 L327.0 1480.1 L327.9 1478.9 L328.7 1477.6 L329.6 1476.4 L330.5 1475.2 L331.4 1474.0 L332.2 1472.7 L333.1 1471.5 L333.9 1470.3 L334.8 1469.0 L335.7 1467.8 L336.5 1466.5 L337.4 1465.3 L338.2 1464.1 L339.1 1462.8 L339.9 1461.6 L340.7 1460.3 L341.6 1459.1 L342.4 1457.8 L343.3 1456.6 L344.1 1455.3 L344.9 1454.0 L345.8 1452.8 L346.6 1451.5 L347.4 1450.3 L348.3 1449.0 L349.1 1447.8 L349.9 1446.5 L350.7 1445.2 L351.6 1444.0 L352.4 1442.7 L353.2 1441.4 L354.0 1440.2 L354.8 1438.9 L355.6 1437.7 L356.5 1436.4 L357.3 1435.1 L358.1 1433.9 L358.9 1432.6 L359.7 1431.3 L360.5 1430.1 L361.3 1428.8 L362.1 1427.5 L363.0 1426.3 L363.8 1425.0 L364.6 1423.7 L365.4 1422.5 L366.2 1421.2 L367.0 1419.9 L367.8 1418.7 L368.6 1417.4 L369.4 1416.1 L370.2 1414.9 L371.0 1413.6 L371.8 1412.3 L372.6 1411.1 L373.4 1409.8 L374.3 1408.6 L375.1 1407.3 L375.9 1406.1 L376.7 1404.8 L377.5 1403.5 L378.3 1402.3 L379.1 1401.0 L379.9 1399.8 L380.7 1398.5 L381.5 1397.3 L382.3 1396.0 L383.1 1394.8 L383.9 1393.5 L384.8 1392.3 L385.6 1391.0 L386.4 1389.8 L387.2 1388.5 L388.0 1387.3 L388.8 1386.0 L389.6 1384.8 L390.4 1383.5 L391.2 1382.3 L392.1 1381.1 L392.9 1379.8 L393.7 1378.6 L394.5 1377.3 L395.3 1376.1 L396.1 1374.9 L397.0 1373.6 L397.8 1372.4 L398.6 1371.2 L399.4 1369.9 L400.2 1368.7 L401.1 1367.5 L401.9 1366.2 L402.7 1365.0 L403.5 1363.8 L404.4 1362.5 L405.2 1361.3 L406.0 1360.1 L406.9 1358.9 L407.7 1357.6 L408.5 1356.4 L409.4 1355.2 L410.2 1354.0 L411.0 1352.7 L411.9 1351.5 L412.7 1350.3 L413.5 1349.1 L414.4 1347.9 L415.2 1346.6 L416.1 1345.4 L416.9 1344.2 L417.8 1343.0 L418.6 1341.8 L419.5 1340.6 L420.3 1339.3 L421.2 1338.1 L422.0 1336.9 L422.9 1335.7 L423.8 1334.5 L424.6 1333.3 L425.5 1332.1 L426.3 1330.9 L427.2 1329.7 L428.1 1328.5 L428.9 1327.3 L429.8 1326.1 L430.7 1324.9 L431.6 1323.7 L432.5 1322.5 L433.3 1321.3 L434.2 1320.1 L435.1 1318.9 L436.0 1317.7 L436.9 1316.5 L437.8 1315.3 L438.7 1314.1 L439.6 1312.9 L440.4 1311.7 L441.3 1310.5 L442.2 1309.3 L443.2 1308.1 L444.1 1306.9 L445.0 1305.7 L445.9 1304.5 L446.8 1303.4 L447.7 1302.2 L448.6 1301.0 L449.5 1299.8 L450.5 1298.6 L451.4 1297.4 L452.3 1296.2 L453.3 1295.1 L454.2 1293.9 L455.1 1292.7 L456.1 1291.5 L457.0 1290.3 L458.0 1289.2 L458.9 1288.0 L459.9 1286.8 L460.8 1285.6 L461.8 1284.5 L462.7 1283.3 L463.7 1282.1 L464.6 1281.0 L465.6 1279.8 L466.6 1278.6 L467.6 1277.4 L468.5 1276.3 L469.5 1275.1 L470.5 1273.9 L471.5 1272.8 L472.5 1271.6 L473.5 1270.5 L474.5 1269.3 L475.5 1268.1 L476.5 1267.0 L477.5 1265.8 L478.5 1264.6 L479.5 1263.5 L480.5 1262.3 L481.5 1261.2 L482.6 1260.0 L483.6 1258.9 L484.6 1257.7 L485.7 1256.6 L486.7 1255.5 L487.7 1254.3 L488.8 1253.2 L489.9 1252.1 L490.9 1251.0 L492.0 1249.9 L493.1 1248.8 L494.2 1247.7 L495.2 1246.6 L496.3 1245.5 L497.4 1244.5 L498.5 1243.4 L499.7 1242.4 L500.8 1241.3 L501.9 1240.3 L503.1 1239.3 L504.2 1238.3 L505.4 1237.3 L506.5 1236.3 L507.7 1235.4 L508.9 1234.4 L510.1 1233.5 L511.3 1232.5 L512.5 1231.6 L513.7 1230.8 L514.9 1229.9 L516.2 1229.0 L517.4 1228.2 L518.7 1227.4 L520.0 1226.5 L521.2 1225.8 L522.5 1225.0 L523.8 1224.2 L525.1 1223.5 L526.5 1222.8 L527.8 1222.1 L529.1 1221.5 L530.5 1220.8 L531.8 1220.2 L533.2 1219.6 L534.5 1219.1 L535.9 1218.5 L537.3 1218.0 L538.7 1217.6 L540.1 1217.1 L541.4 1216.7 L542.8 1216.3 L544.2 1216.0 L545.6 1215.6 L547.0 1215.3 L548.5 1215.1 L549.9 1214.9 L551.3 1214.7 L552.7 1214.5 L554.1 1214.4 L555.5 1214.3 L557.0 1214.2 L558.4 1214.2 L559.8 1214.2 L561.2 1214.2 L562.6 1214.2 L564.1 1214.3 L565.5 1214.4 L566.9 1214.5 L568.4 1214.7 L569.8 1214.9 L571.2 1215.1 L572.6 1215.3 L574.1 1215.5 L575.5 1215.8 L576.9 1216.1 L578.3 1216.5 L579.8 1216.8 L581.2 1217.2 L582.6 1217.6 L584.0 1218.0 L585.4 1218.4 L586.8 1218.9 L588.2 1219.4 L589.6 1219.8 L591.0 1220.4 L592.4 1220.9 L593.8 1221.4 L595.2 1222.0 L596.6 1222.6 L598.0 1223.2 L599.4 1223.8 L600.7 1224.5 L602.1 1225.1 L603.5 1225.8 L604.8 1226.4 L606.2 1227.1 L607.5 1227.8 L608.9 1228.6 L610.2 1229.3 L611.5 1230.0 L612.9 1230.8 L614.2 1231.6 L615.5 1232.3 L616.8 1233.1 L618.1 1233.9 L619.4 1234.7 L620.7 1235.5 L621.9 1236.4 L623.2 1237.2 L624.4 1238.0 L625.7 1238.9 L626.9 1239.7 L628.2 1240.6 L629.4 1241.5 L630.6 1242.4 L631.9 1243.2 L633.1 1244.1 L634.3 1245.0 L635.5 1246.0 L636.7 1246.9 L637.8 1247.8 L639.0 1248.7 L640.2 1249.7 L641.4 1250.6 L642.5 1251.6 L643.7 1252.5 L644.8 1253.5 L646.0 1254.5 L647.1 1255.4 L648.2 1256.4 L649.4 1257.4 L650.5 1258.4 L651.6 1259.4 L652.7 1260.4 L653.8 1261.4 L654.9 1262.5 L656.0 1263.5 L657.1 1264.5 L658.2 1265.5 L659.3 1266.6 L660.3 1267.6 L661.4 1268.7 L662.5 1269.7 L663.6 1270.8 L664.6 1271.8 L665.7 1272.9 L666.7 1274.0 L667.8 1275.0 L668.8 1276.1 L669.9 1277.2 L670.9 1278.3 L671.9 1279.4 L673.0 1280.5 L674.0 1281.6 L675.0 1282.7 L676.0 1283.8 L677.1 1284.9 L678.1 1286.0 L679.1 1287.1 L680.1 1288.2 L681.1 1289.3 L682.1 1290.4 L683.1 1291.5 L684.1 1292.7 L685.1 1293.8 L686.1 1294.9 L687.1 1296.0 L688.1 1297.2 L689.1 1298.3 L690.1 1299.4 L691.1 1300.6 L692.1 1301.7 L693.0 1302.8 L694.0 1304.0 L695.0 1305.1 L696.0 1306.2 L697.0 1307.4 L697.9 1308.5 L698.9 1309.7 L699.9 1310.8 L700.9 1311.9 L701.8 1313.1 L702.8 1314.2 L703.8 1315.4 L704.7 1316.5 L705.7 1317.7 L706.7 1318.8 L707.6 1319.9 L708.6 1321.1 L709.6 1322.2 L710.5 1323.4 L711.5 1324.5 L712.5 1325.7 L713.4 1326.8 L714.4 1328.0 L715.4 1329.1 L716.3 1330.2 L717.3 1331.4 L718.3 1332.5 L719.2 1333.7 L720.2 1334.8 L721.2 1336.0 L722.1 1337.1 L723.1 1338.3 L724.0 1339.4 L725.0 1340.5 L726.0 1341.7 L726.9 1342.8 L727.9 1344.0 L728.9 1345.1 L729.8 1346.3 L730.8 1347.4 L731.8 1348.5 L732.7 1349.7 L733.7 1350.8 L734.7 1351.9 L735.6 1353.1 L736.6 1354.2 L737.6 1355.3 L738.6 1356.5 L739.5 1357.6 L740.5 1358.7 L741.5 1359.9 L742.5 1361.0 L743.4 1362.1 L744.4 1363.2 L745.4 1364.4 L746.4 1365.5 L747.4 1366.6 L748.3 1367.7 L749.3 1368.8 L750.3 1370.0 L751.3 1371.1 L752.3 1372.2 L753.3 1373.3 L754.3 1374.4 L755.3 1375.5 L756.3 1376.6 L757.3 1377.7 L758.3 1378.8 L759.3 1379.9 L760.3 1381.0 L761.3 1382.1 L762.3 1383.2 L763.3 1384.3 L764.3 1385.4 L765.3 1386.5 L766.4 1387.6 L767.4 1388.6 L768.4 1389.7 L769.4 1390.8 L770.5 1391.9 L771.5 1392.9 L772.5 1394.0 L773.6 1395.1 L774.6 1396.1 L775.7 1397.2 L776.7 1398.3 L777.8 1399.3 L778.8 1400.4 L779.9 1401.4 L780.9 1402.5 L782.0 1403.5 L783.1 1404.5 L784.1 1405.6 L785.2 1406.6 L786.3 1407.6 L787.3 1408.7 L788.4 1409.7 L789.5 1410.7 L790.6 1411.7 L791.7 1412.8 L792.8 1413.8 L793.9 1414.8 L795.0 1415.8 L796.1 1416.8 L797.2 1417.8 L798.3 1418.8 L799.5 1419.8 L800.6 1420.8 L801.7 1421.7 L802.8 1422.7 L804.0 1423.7 L805.1 1424.7 L806.3 1425.6 L807.4 1426.6 L808.6 1427.6 L809.7 1428.5 L810.9 1429.5 L812.1 1430.4 L813.2 1431.3 L814.4 1432.3 L815.6 1433.2 L816.8 1434.1 L818.0 1435.1 L819.2 1436.0 L820.4 1436.9 L821.6 1437.8 L822.8 1438.7 L824.0 1439.6 L825.2 1440.5 L826.4 1441.4 L827.7 1442.3 L828.9 1443.2" fill="none" stroke="#ff0000" stroke-width="4" stroke-linecap="round" stroke-linejoin="round"/>
<text x="513.10" y="1263.00" fill="#ff0000" stroke="#ff0000" font-size="38" textLength="97.42" lengthAdjust="spacing">100 A</text>
<text x="515.50" y="1336.90" fill="#ff0000" stroke="#ff0000" font-size="38" textLength="76.48" lengthAdjust="spacing">90 A</text>
<text x="519.40" y="1406.00" fill="#ff0000" stroke="#ff0000" font-size="38" textLength="75.48" lengthAdjust="spacing">80 A</text>
<line x1="1065.00" y1="1089.30" x2="1065.00" y2="1668.10" stroke="#000" stroke-width="2"/>
<line x1="1064.00" y1="1667.10" x2="1739.50" y2="1667.10" stroke="#000" stroke-width="2"/>
<line x1="1065.00" y1="1667.10" x2="1084.00" y2="1667.10" stroke="#000" stroke-width="2"/>
<text x="1046.0" y="1679.9" text-anchor="end" fill="#000" stroke="#000" font-size="38">0</text>
<line x1="1065.00" y1="1595.00" x2="1084.00" y2="1595.00" stroke="#000" stroke-width="2"/>
<text x="1046.0" y="1607.8" text-anchor="end" fill="#000" stroke="#000" font-size="38">25</text>
<line x1="1065.00" y1="1522.90" x2="1084.00" y2="1522.90" stroke="#000" stroke-width="2"/>
<text x="1046.0" y="1535.7" text-anchor="end" fill="#000" stroke="#000" font-size="38">50</text>
<line x1="1065.00" y1="1450.80" x2="1084.00" y2="1450.80" stroke="#000" stroke-width="2"/>
<text x="1046.0" y="1463.6" text-anchor="end" fill="#000" stroke="#000" font-size="38">75</text>
<line x1="1065.00" y1="1378.70" x2="1084.00" y2="1378.70" stroke="#000" stroke-width="2"/>
<text x="1046.0" y="1391.5" text-anchor="end" fill="#000" stroke="#000" font-size="38">100</text>
<line x1="1065.00" y1="1306.60" x2="1084.00" y2="1306.60" stroke="#000" stroke-width="2"/>
<text x="1046.0" y="1319.4" text-anchor="end" fill="#000" stroke="#000" font-size="38">125</text>
<line x1="1065.00" y1="1234.50" x2="1084.00" y2="1234.50" stroke="#000" stroke-width="2"/>
<text x="1046.0" y="1247.3" text-anchor="end" fill="#000" stroke="#000" font-size="38">150</text>
<line x1="1065.00" y1="1162.40" x2="1084.00" y2="1162.40" stroke="#000" stroke-width="2"/>
<text x="1046.0" y="1175.2" text-anchor="end" fill="#000" stroke="#000" font-size="38">175</text>
<line x1="1065.00" y1="1090.30" x2="1086.50" y2="1090.30" stroke="#000" stroke-width="2"/>
<text x="1046.0" y="1103.1" text-anchor="end" fill="#000" stroke="#000" font-size="38">200</text>
<line x1="1065.00" y1="1667.10" x2="1065.00" y2="1648.60" stroke="#000" stroke-width="2"/>
<text x="1065.0" y="1720.0" text-anchor="middle" fill="#000" stroke="#000" font-size="38">0</text>
<line x1="1199.70" y1="1667.10" x2="1199.70" y2="1648.60" stroke="#000" stroke-width="2"/>
<text x="1199.7" y="1720.0" text-anchor="middle" fill="#000" stroke="#000" font-size="38">2</text>
<line x1="1334.40" y1="1667.10" x2="1334.40" y2="1648.60" stroke="#000" stroke-width="2"/>
<text x="1334.4" y="1720.0" text-anchor="middle" fill="#000" stroke="#000" font-size="38">4</text>
<line x1="1469.10" y1="1667.10" x2="1469.10" y2="1648.60" stroke="#000" stroke-width="2"/>
<text x="1469.1" y="1720.0" text-anchor="middle" fill="#000" stroke="#000" font-size="38">6</text>
<line x1="1603.80" y1="1667.10" x2="1603.80" y2="1648.60" stroke="#000" stroke-width="2"/>
<text x="1603.8" y="1720.0" text-anchor="middle" fill="#000" stroke="#000" font-size="38">8</text>
<line x1="1738.50" y1="1667.10" x2="1738.50" y2="1648.60" stroke="#000" stroke-width="2"/>
<text x="1738.5" y="1720.0" text-anchor="middle" fill="#000" stroke="#000" font-size="38">10</text>
<line x1="1065.00" y1="1161.50" x2="1770.00" y2="1161.50" stroke="#000" stroke-width="2.2" stroke-dasharray="19.4 6.03" stroke-dashoffset="3.9"/>
<text x="1082.70" y="1150.30" fill="#000" stroke="#000" font-size="38" textLength="250.97" lengthAdjust="spacing">Max. operating</text>
<text x="1084.00" y="1190.80" fill="#000" stroke="#000" font-size="38" textLength="205.29" lengthAdjust="spacing">temperature</text>
<text x="1316.60" y="1786.90" fill="#000" stroke="#000" font-size="38" textLength="171.56" lengthAdjust="spacing">Time (ms)</text>
<text transform="translate(941.50 1628.90) rotate(-90)" fill="#000" stroke="#000" font-size="38" textLength="503.78" lengthAdjust="spacing">Chip Temperature, <tspan font-style="italic">T</tspan><tspan font-style="italic" font-size="35" dy="8">chip</tspan><tspan dy="-8"> (</tspan><tspan dy="-12">o</tspan><tspan dy="12">C)</tspan></text>
<text x="1061.60" y="952.00" fill="#000" stroke="#000" font-size="38" textLength="435.48" lengthAdjust="spacing"><tspan font-weight="bold">c.</tspan> Chip thickness: 350 <tspan font-family="&apos;Liberation Serif&apos;, &apos;Times New Roman&apos;, serif">&#956;</tspan>m</text>
<text x="1100.30" y="1005.50" fill="#000" stroke="#000" font-size="38" textLength="570.41" lengthAdjust="spacing">Active area: 11.0 mm<tspan font-size="24" dy="-17">2</tspan><tspan dy="17"> (R=20 m</tspan><tspan font-family="&apos;Liberation Serif&apos;, &apos;Times New Roman&apos;, serif">&#937;</tspan>)</text>
<path d="M1065.1 1594.4 L1066.7 1594.4 L1068.3 1594.3 L1069.8 1594.2 L1071.4 1594.2 L1072.9 1594.1 L1074.5 1594.0 L1076.1 1593.9 L1077.6 1593.8 L1079.2 1593.7 L1080.7 1593.5 L1082.2 1593.4 L1083.8 1593.3 L1085.3 1593.1 L1086.8 1592.9 L1088.4 1592.8 L1089.9 1592.6 L1091.4 1592.4 L1092.9 1592.2 L1094.4 1592.0 L1095.9 1591.8 L1097.4 1591.5 L1098.9 1591.3 L1100.4 1591.1 L1101.9 1590.8 L1103.4 1590.6 L1104.8 1590.3 L1106.3 1590.0 L1107.8 1589.7 L1109.3 1589.4 L1110.7 1589.1 L1112.2 1588.8 L1113.6 1588.5 L1115.1 1588.2 L1116.5 1587.8 L1118.0 1587.5 L1119.4 1587.1 L1120.9 1586.8 L1122.3 1586.4 L1123.7 1586.0 L1125.2 1585.6 L1126.6 1585.2 L1128.0 1584.8 L1129.4 1584.4 L1130.9 1584.0 L1132.3 1583.6 L1133.7 1583.2 L1135.1 1582.7 L1136.5 1582.3 L1137.9 1581.8 L1139.3 1581.4 L1140.7 1580.9 L1142.1 1580.4 L1143.5 1579.9 L1144.8 1579.4 L1146.2 1579.0 L1147.6 1578.4 L1149.0 1577.9 L1150.3 1577.4 L1151.7 1576.9 L1153.1 1576.4 L1154.4 1575.8 L1155.8 1575.3 L1157.2 1574.7 L1158.5 1574.2 L1159.9 1573.6 L1161.2 1573.0 L1162.6 1572.4 L1163.9 1571.8 L1165.2 1571.3 L1166.6 1570.7 L1167.9 1570.0 L1169.2 1569.4 L1170.6 1568.8 L1171.9 1568.2 L1173.2 1567.6 L1174.5 1566.9 L1175.8 1566.3 L1177.2 1565.6 L1178.5 1565.0 L1179.8 1564.3 L1181.1 1563.6 L1182.4 1563.0 L1183.7 1562.3 L1185.0 1561.6 L1186.3 1560.9 L1187.6 1560.2 L1188.9 1559.5 L1190.1 1558.8 L1191.4 1558.1 L1192.7 1557.4 L1194.0 1556.6 L1195.3 1555.9 L1196.5 1555.2 L1197.8 1554.4 L1199.1 1553.7 L1200.4 1552.9 L1201.6 1552.2 L1202.9 1551.4 L1204.1 1550.6 L1205.4 1549.8 L1206.7 1549.1 L1207.9 1548.3 L1209.2 1547.5 L1210.4 1546.7 L1211.7 1545.9 L1212.9 1545.1 L1214.2 1544.3 L1215.4 1543.5 L1216.6 1542.7 L1217.9 1541.8 L1219.1 1541.0 L1220.4 1540.2 L1221.6 1539.3 L1222.8 1538.5 L1224.0 1537.7 L1225.3 1536.8 L1226.5 1535.9 L1227.7 1535.1 L1228.9 1534.2 L1230.1 1533.4 L1231.4 1532.5 L1232.6 1531.6 L1233.8 1530.7 L1235.0 1529.8 L1236.2 1529.0 L1237.4 1528.1 L1238.6 1527.2 L1239.8 1526.3 L1241.0 1525.4 L1242.2 1524.5 L1243.4 1523.6 L1244.6 1522.6 L1245.8 1521.7 L1247.0 1520.8 L1248.2 1519.9 L1249.4 1518.9 L1250.6 1518.0 L1251.8 1517.1 L1253.0 1516.1 L1254.2 1515.2 L1255.3 1514.3 L1256.5 1513.3 L1257.7 1512.4 L1258.9 1511.4 L1260.1 1510.4 L1261.2 1509.5 L1262.4 1508.5 L1263.6 1507.6 L1264.8 1506.6 L1265.9 1505.6 L1267.1 1504.6 L1268.3 1503.7 L1269.4 1502.7 L1270.6 1501.7 L1271.8 1500.7 L1272.9 1499.8 L1274.1 1498.8 L1275.3 1497.8 L1276.4 1496.8 L1277.6 1495.8 L1278.8 1494.8 L1279.9 1493.8 L1281.1 1492.8 L1282.3 1491.8 L1283.4 1490.8 L1284.6 1489.9 L1285.7 1488.9 L1286.9 1487.9 L1288.1 1486.9 L1289.2 1485.9 L1290.4 1484.9 L1291.6 1483.9 L1292.7 1482.9 L1293.9 1481.9 L1295.0 1480.9 L1296.2 1479.9 L1297.4 1478.9 L1298.5 1477.9 L1299.7 1476.9 L1300.8 1475.9 L1302.0 1474.9 L1303.2 1473.9 L1304.3 1473.0 L1305.5 1472.0 L1306.7 1471.0 L1307.8 1470.0 L1309.0 1469.0 L1310.2 1468.0 L1311.3 1467.1 L1312.5 1466.1 L1313.7 1465.1 L1314.8 1464.1 L1316.0 1463.1 L1317.2 1462.2 L1318.4 1461.2 L1319.5 1460.2 L1320.7 1459.3 L1321.9 1458.3 L1323.1 1457.4 L1324.3 1456.4 L1325.4 1455.5 L1326.6 1454.5 L1327.8 1453.6 L1329.0 1452.6 L1330.2 1451.7 L1331.4 1450.8 L1332.6 1449.8 L1333.7 1448.9 L1334.9 1448.0 L1336.1 1447.1 L1337.3 1446.1 L1338.5 1445.2 L1339.7 1444.3 L1340.9 1443.4 L1342.1 1442.5 L1343.4 1441.6 L1344.6 1440.7 L1345.8 1439.9 L1347.0 1439.0 L1348.2 1438.1 L1349.4 1437.2 L1350.6 1436.4 L1351.9 1435.5 L1353.1 1434.7 L1354.3 1433.8 L1355.6 1433.0 L1356.8 1432.2 L1358.0 1431.3 L1359.3 1430.5 L1360.5 1429.7 L1361.8 1428.9 L1363.0 1428.1 L1364.3 1427.3 L1365.5 1426.5 L1366.8 1425.7 L1368.0 1424.9 L1369.3 1424.1 L1370.6 1423.4 L1371.8 1422.6 L1373.1 1421.9 L1374.4 1421.1 L1375.6 1420.4 L1376.9 1419.7 L1378.2 1418.9 L1379.5 1418.2 L1380.8 1417.5 L1382.1 1416.8 L1383.4 1416.1 L1384.7 1415.5 L1386.0 1414.8 L1387.3 1414.1 L1388.6 1413.5 L1389.9 1412.8 L1391.3 1412.2 L1392.6 1411.6 L1393.9 1410.9 L1395.3 1410.3 L1396.6 1409.7 L1397.9 1409.1 L1399.3 1408.5 L1400.6 1408.0 L1402.0 1407.4 L1403.4 1406.9 L1404.7 1406.3 L1406.1 1405.8 L1407.5 1405.2 L1408.8 1404.7 L1410.2 1404.2 L1411.6 1403.7 L1413.0 1403.2 L1414.4 1402.8 L1415.8 1402.3 L1417.2 1401.9 L1418.6 1401.4 L1420.0 1401.0 L1421.4 1400.6 L1422.9 1400.1 L1424.3 1399.7 L1425.7 1399.4 L1427.2 1399.0 L1428.6 1398.6 L1430.0 1398.3 L1431.5 1397.9 L1432.9 1397.6 L1434.4 1397.3 L1435.8 1396.9 L1437.3 1396.6 L1438.7 1396.4 L1440.2 1396.1 L1441.7 1395.8 L1443.1 1395.6 L1444.6 1395.3 L1446.1 1395.1 L1447.6 1394.9 L1449.0 1394.7 L1450.5 1394.5 L1452.0 1394.3 L1453.5 1394.1 L1454.9 1394.0 L1456.4 1393.8 L1457.9 1393.7 L1459.4 1393.5 L1460.9 1393.4 L1462.4 1393.3 L1463.9 1393.3 L1465.3 1393.2 L1466.8 1393.1 L1468.3 1393.1 L1469.8 1393.0 L1471.3 1393.0 L1472.8 1393.0 L1474.3 1393.0 L1475.8 1393.0 L1477.3 1393.0 L1478.7 1393.1 L1480.2 1393.1 L1481.7 1393.2 L1483.2 1393.3 L1484.7 1393.4 L1486.2 1393.5 L1487.7 1393.6 L1489.1 1393.7 L1490.6 1393.9 L1492.1 1394.0 L1493.6 1394.2 L1495.0 1394.4 L1496.5 1394.6 L1498.0 1394.8 L1499.5 1395.0 L1500.9 1395.3 L1502.4 1395.5 L1503.9 1395.8 L1505.3 1396.0 L1506.8 1396.3 L1508.2 1396.6 L1509.7 1396.9 L1511.1 1397.3 L1512.6 1397.6 L1514.0 1397.9 L1515.5 1398.3 L1516.9 1398.7 L1518.4 1399.1 L1519.8 1399.4 L1521.3 1399.8 L1522.7 1400.3 L1524.1 1400.7 L1525.6 1401.1 L1527.0 1401.6 L1528.4 1402.0 L1529.8 1402.5 L1531.3 1402.9 L1532.7 1403.4 L1534.1 1403.9 L1535.5 1404.4 L1536.9 1404.9 L1538.4 1405.4 L1539.8 1405.9 L1541.2 1406.5 L1542.6 1407.0 L1544.0 1407.6 L1545.4 1408.1 L1546.8 1408.7 L1548.2 1409.2 L1549.6 1409.8 L1551.0 1410.4 L1552.4 1411.0 L1553.7 1411.6 L1555.1 1412.2 L1556.5 1412.8 L1557.9 1413.4 L1559.3 1414.0 L1560.6 1414.7 L1562.0 1415.3 L1563.4 1415.9 L1564.8 1416.6 L1566.1 1417.2 L1567.5 1417.9 L1568.9 1418.6 L1570.2 1419.2 L1571.6 1419.9 L1572.9 1420.6 L1574.3 1421.2 L1575.6 1421.9 L1577.0 1422.6 L1578.3 1423.3 L1579.7 1424.0 L1581.0 1424.7 L1582.3 1425.4 L1583.7 1426.1 L1585.0 1426.8 L1586.4 1427.5 L1587.7 1428.2 L1589.0 1428.9 L1590.3 1429.6 L1591.7 1430.4 L1593.0 1431.1 L1594.3 1431.8 L1595.6 1432.5 L1597.0 1433.3 L1598.3 1434.0 L1599.6 1434.7 L1600.9 1435.5 L1602.2 1436.2 L1603.6 1436.9 L1604.9 1437.7 L1606.2 1438.4 L1607.5 1439.1 L1608.8 1439.9 L1610.1 1440.6 L1611.4 1441.4 L1612.7 1442.1 L1614.1 1442.9 L1615.4 1443.6 L1616.7 1444.4 L1618.0 1445.1 L1619.3 1445.9 L1620.6 1446.6 L1621.9 1447.3 L1623.2 1448.1 L1624.5 1448.8 L1625.8 1449.6 L1627.1 1450.3 L1628.4 1451.1 L1629.7 1451.8 L1631.0 1452.6 L1632.4 1453.3 L1633.7 1454.0 L1635.0 1454.8 L1636.3 1455.5 L1637.6 1456.2 L1638.9 1457.0 L1640.2 1457.7 L1641.5 1458.4 L1642.8 1459.2 L1644.1 1459.9 L1645.4 1460.6 L1646.7 1461.3 L1648.1 1462.1 L1649.4 1462.8 L1650.7 1463.5 L1652.0 1464.2 L1653.3 1464.9 L1654.6 1465.6 L1656.0 1466.3 L1657.3 1467.0 L1658.6 1467.7 L1659.9 1468.4 L1661.2 1469.1 L1662.6 1469.8 L1663.9 1470.4 L1665.2 1471.1 L1666.6 1471.8 L1667.9 1472.5 L1669.2 1473.1 L1670.5 1473.8 L1671.9 1474.5 L1673.2 1475.1 L1674.6 1475.8 L1675.9 1476.4 L1677.2 1477.1 L1678.6 1477.7 L1679.9 1478.3 L1681.3 1479.0 L1682.6 1479.6 L1684.0 1480.2 L1685.3 1480.9 L1686.7 1481.5 L1688.0 1482.1 L1689.4 1482.7 L1690.8 1483.3 L1692.1 1483.9 L1693.5 1484.5 L1694.8 1485.1 L1696.2 1485.7 L1697.6 1486.3 L1699.0 1486.9 L1700.3 1487.4 L1701.7 1488.0 L1703.1 1488.6 L1704.5 1489.1 L1705.9 1489.7 L1707.3 1490.3 L1708.6 1490.8 L1710.0 1491.4 L1711.4 1491.9 L1712.8 1492.4 L1714.2 1493.0 L1715.6 1493.5 L1717.0 1494.0 L1718.5 1494.5 L1719.9 1495.0 L1721.3 1495.5 L1722.7 1496.0 L1724.1 1496.5 L1725.5 1497.0 L1727.0 1497.5 L1728.4 1498.0 L1729.8 1498.5 L1731.3 1498.9 L1732.7 1499.4 L1734.2 1499.9 L1735.6 1500.3 L1737.0 1500.8 L1738.5 1501.2" fill="none" stroke="#ff0000" stroke-width="4" stroke-linecap="round" stroke-linejoin="round"/>
<path d="M1065.1 1594.4 L1066.6 1594.4 L1068.2 1594.4 L1069.7 1594.4 L1071.3 1594.3 L1072.8 1594.3 L1074.3 1594.2 L1075.9 1594.1 L1077.4 1594.0 L1078.9 1593.9 L1080.4 1593.8 L1081.9 1593.6 L1083.4 1593.5 L1084.9 1593.3 L1086.5 1593.2 L1087.9 1593.0 L1089.4 1592.8 L1090.9 1592.6 L1092.4 1592.3 L1093.9 1592.1 L1095.4 1591.9 L1096.9 1591.6 L1098.3 1591.3 L1099.8 1591.0 L1101.3 1590.8 L1102.7 1590.4 L1104.2 1590.1 L1105.6 1589.8 L1107.1 1589.5 L1108.5 1589.1 L1110.0 1588.7 L1111.4 1588.4 L1112.9 1588.0 L1114.3 1587.6 L1115.7 1587.2 L1117.2 1586.8 L1118.6 1586.3 L1120.0 1585.9 L1121.4 1585.5 L1122.8 1585.0 L1124.2 1584.5 L1125.6 1584.0 L1127.0 1583.6 L1128.4 1583.1 L1129.8 1582.6 L1131.2 1582.0 L1132.6 1581.5 L1134.0 1581.0 L1135.4 1580.4 L1136.8 1579.9 L1138.1 1579.3 L1139.5 1578.7 L1140.9 1578.2 L1142.2 1577.6 L1143.6 1577.0 L1144.9 1576.4 L1146.3 1575.7 L1147.6 1575.1 L1149.0 1574.5 L1150.3 1573.8 L1151.7 1573.2 L1153.0 1572.5 L1154.3 1571.9 L1155.7 1571.2 L1157.0 1570.5 L1158.3 1569.8 L1159.6 1569.1 L1160.9 1568.4 L1162.2 1567.7 L1163.5 1567.0 L1164.8 1566.3 L1166.1 1565.6 L1167.4 1564.8 L1168.7 1564.1 L1170.0 1563.3 L1171.3 1562.6 L1172.6 1561.8 L1173.9 1561.0 L1175.1 1560.3 L1176.4 1559.5 L1177.7 1558.7 L1178.9 1557.9 L1180.2 1557.1 L1181.5 1556.3 L1182.7 1555.5 L1184.0 1554.7 L1185.2 1553.8 L1186.4 1553.0 L1187.7 1552.2 L1188.9 1551.3 L1190.1 1550.5 L1191.4 1549.6 L1192.6 1548.8 L1193.8 1547.9 L1195.0 1547.1 L1196.3 1546.2 L1197.5 1545.3 L1198.7 1544.4 L1199.9 1543.5 L1201.1 1542.7 L1202.3 1541.8 L1203.5 1540.9 L1204.7 1540.0 L1205.9 1539.0 L1207.1 1538.1 L1208.2 1537.2 L1209.4 1536.3 L1210.6 1535.4 L1211.8 1534.4 L1212.9 1533.5 L1214.1 1532.6 L1215.3 1531.6 L1216.4 1530.7 L1217.6 1529.7 L1218.7 1528.8 L1219.9 1527.8 L1221.1 1526.8 L1222.2 1525.9 L1223.3 1524.9 L1224.5 1523.9 L1225.6 1522.9 L1226.8 1521.9 L1227.9 1521.0 L1229.0 1520.0 L1230.1 1519.0 L1231.3 1518.0 L1232.4 1517.0 L1233.5 1516.0 L1234.6 1515.0 L1235.7 1514.0 L1236.9 1513.0 L1238.0 1511.9 L1239.1 1510.9 L1240.2 1509.9 L1241.3 1508.9 L1242.4 1507.9 L1243.5 1506.8 L1244.6 1505.8 L1245.6 1504.8 L1246.7 1503.7 L1247.8 1502.7 L1248.9 1501.6 L1250.0 1500.6 L1251.1 1499.5 L1252.1 1498.5 L1253.2 1497.5 L1254.3 1496.4 L1255.3 1495.3 L1256.4 1494.3 L1257.5 1493.2 L1258.5 1492.2 L1259.6 1491.1 L1260.6 1490.0 L1261.7 1489.0 L1262.7 1487.9 L1263.8 1486.8 L1264.8 1485.8 L1265.9 1484.7 L1266.9 1483.6 L1268.0 1482.6 L1269.0 1481.5 L1270.0 1480.4 L1271.1 1479.3 L1272.1 1478.2 L1273.1 1477.2 L1274.2 1476.1 L1275.2 1475.0 L1276.2 1473.9 L1277.3 1472.8 L1278.3 1471.8 L1279.3 1470.7 L1280.3 1469.6 L1281.4 1468.5 L1282.4 1467.4 L1283.4 1466.3 L1284.4 1465.2 L1285.5 1464.1 L1286.5 1463.0 L1287.5 1461.9 L1288.5 1460.9 L1289.6 1459.8 L1290.6 1458.7 L1291.6 1457.6 L1292.6 1456.5 L1293.6 1455.4 L1294.7 1454.3 L1295.7 1453.2 L1296.7 1452.1 L1297.7 1451.0 L1298.7 1449.9 L1299.8 1448.8 L1300.8 1447.7 L1301.8 1446.6 L1302.8 1445.5 L1303.9 1444.5 L1304.9 1443.4 L1305.9 1442.3 L1306.9 1441.2 L1308.0 1440.1 L1309.0 1439.0 L1310.0 1437.9 L1311.0 1436.8 L1312.1 1435.7 L1313.1 1434.6 L1314.1 1433.5 L1315.2 1432.5 L1316.2 1431.4 L1317.3 1430.3 L1318.3 1429.2 L1319.3 1428.1 L1320.4 1427.0 L1321.4 1426.0 L1322.5 1424.9 L1323.5 1423.8 L1324.6 1422.7 L1325.6 1421.6 L1326.7 1420.6 L1327.7 1419.5 L1328.8 1418.4 L1329.9 1417.4 L1330.9 1416.3 L1332.0 1415.2 L1333.1 1414.1 L1334.1 1413.1 L1335.2 1412.0 L1336.3 1411.0 L1337.4 1409.9 L1338.5 1408.8 L1339.6 1407.8 L1340.6 1406.7 L1341.7 1405.7 L1342.8 1404.6 L1343.9 1403.6 L1345.0 1402.5 L1346.1 1401.5 L1347.3 1400.5 L1348.4 1399.4 L1349.5 1398.4 L1350.6 1397.3 L1351.7 1396.3 L1352.9 1395.3 L1354.0 1394.3 L1355.1 1393.2 L1356.3 1392.2 L1357.4 1391.2 L1358.6 1390.2 L1359.7 1389.2 L1360.9 1388.2 L1362.0 1387.2 L1363.2 1386.2 L1364.4 1385.2 L1365.5 1384.2 L1366.7 1383.2 L1367.9 1382.2 L1369.1 1381.3 L1370.3 1380.3 L1371.4 1379.3 L1372.6 1378.4 L1373.8 1377.4 L1375.0 1376.5 L1376.2 1375.6 L1377.4 1374.6 L1378.7 1373.7 L1379.9 1372.8 L1381.1 1371.9 L1382.3 1371.0 L1383.6 1370.1 L1384.8 1369.2 L1386.0 1368.3 L1387.3 1367.5 L1388.5 1366.6 L1389.8 1365.8 L1391.0 1364.9 L1392.3 1364.1 L1393.5 1363.3 L1394.8 1362.5 L1396.1 1361.7 L1397.4 1360.9 L1398.6 1360.1 L1399.9 1359.3 L1401.2 1358.5 L1402.5 1357.8 L1403.8 1357.0 L1405.1 1356.3 L1406.4 1355.6 L1407.7 1354.9 L1409.0 1354.2 L1410.3 1353.5 L1411.6 1352.8 L1413.0 1352.1 L1414.3 1351.5 L1415.6 1350.8 L1417.0 1350.2 L1418.3 1349.6 L1419.7 1349.0 L1421.0 1348.4 L1422.4 1347.8 L1423.7 1347.3 L1425.1 1346.7 L1426.5 1346.2 L1427.8 1345.7 L1429.2 1345.2 L1430.6 1344.7 L1432.0 1344.2 L1433.4 1343.7 L1434.8 1343.3 L1436.2 1342.8 L1437.6 1342.4 L1439.0 1342.0 L1440.4 1341.6 L1441.8 1341.2 L1443.2 1340.9 L1444.6 1340.5 L1446.0 1340.2 L1447.5 1339.9 L1448.9 1339.6 L1450.3 1339.3 L1451.8 1339.0 L1453.2 1338.7 L1454.6 1338.5 L1456.1 1338.2 L1457.5 1338.0 L1459.0 1337.8 L1460.4 1337.6 L1461.9 1337.5 L1463.3 1337.3 L1464.8 1337.1 L1466.2 1337.0 L1467.7 1336.9 L1469.1 1336.8 L1470.6 1336.7 L1472.0 1336.6 L1473.5 1336.6 L1474.9 1336.5 L1476.4 1336.5 L1477.9 1336.5 L1479.3 1336.5 L1480.8 1336.5 L1482.2 1336.5 L1483.7 1336.5 L1485.2 1336.6 L1486.6 1336.7 L1488.1 1336.7 L1489.5 1336.8 L1491.0 1337.0 L1492.4 1337.1 L1493.9 1337.2 L1495.4 1337.4 L1496.8 1337.6 L1498.3 1337.8 L1499.7 1338.0 L1501.2 1338.2 L1502.6 1338.4 L1504.1 1338.6 L1505.5 1338.9 L1507.0 1339.2 L1508.4 1339.5 L1509.8 1339.8 L1511.3 1340.1 L1512.7 1340.4 L1514.1 1340.8 L1515.6 1341.1 L1517.0 1341.5 L1518.4 1341.9 L1519.9 1342.3 L1521.3 1342.7 L1522.7 1343.2 L1524.1 1343.6 L1525.5 1344.0 L1526.9 1344.5 L1528.4 1345.0 L1529.8 1345.5 L1531.2 1346.0 L1532.6 1346.5 L1534.0 1347.0 L1535.4 1347.6 L1536.8 1348.1 L1538.2 1348.7 L1539.5 1349.2 L1540.9 1349.8 L1542.3 1350.4 L1543.7 1351.0 L1545.1 1351.6 L1546.5 1352.2 L1547.8 1352.9 L1549.2 1353.5 L1550.6 1354.1 L1551.9 1354.8 L1553.3 1355.5 L1554.7 1356.1 L1556.0 1356.8 L1557.4 1357.5 L1558.7 1358.2 L1560.1 1358.9 L1561.4 1359.6 L1562.8 1360.3 L1564.1 1361.0 L1565.5 1361.8 L1566.8 1362.5 L1568.1 1363.3 L1569.4 1364.0 L1570.8 1364.8 L1572.1 1365.5 L1573.4 1366.3 L1574.7 1367.1 L1576.0 1367.8 L1577.4 1368.6 L1578.7 1369.4 L1580.0 1370.2 L1581.3 1371.0 L1582.6 1371.8 L1583.9 1372.6 L1585.1 1373.4 L1586.4 1374.2 L1587.7 1375.1 L1589.0 1375.9 L1590.3 1376.7 L1591.6 1377.5 L1592.8 1378.4 L1594.1 1379.2 L1595.4 1380.0 L1596.6 1380.9 L1597.9 1381.7 L1599.2 1382.6 L1600.4 1383.4 L1601.7 1384.3 L1602.9 1385.1 L1604.2 1386.0 L1605.4 1386.8 L1606.7 1387.7 L1607.9 1388.6 L1609.1 1389.4 L1610.4 1390.3 L1611.6 1391.2 L1612.9 1392.0 L1614.1 1392.9 L1615.3 1393.8 L1616.6 1394.6 L1617.8 1395.5 L1619.0 1396.4 L1620.3 1397.3 L1621.5 1398.2 L1622.7 1399.0 L1623.9 1399.9 L1625.2 1400.8 L1626.4 1401.7 L1627.6 1402.6 L1628.8 1403.4 L1630.0 1404.3 L1631.3 1405.2 L1632.5 1406.1 L1633.7 1407.0 L1634.9 1407.9 L1636.1 1408.7 L1637.3 1409.6 L1638.6 1410.5 L1639.8 1411.4 L1641.0 1412.3 L1642.2 1413.2 L1643.4 1414.0 L1644.7 1414.9 L1645.9 1415.8 L1647.1 1416.7 L1648.3 1417.6 L1649.5 1418.4 L1650.7 1419.3 L1652.0 1420.2 L1653.2 1421.0 L1654.4 1421.9 L1655.6 1422.8 L1656.8 1423.7 L1658.1 1424.5 L1659.3 1425.4 L1660.5 1426.2 L1661.7 1427.1 L1663.0 1428.0 L1664.2 1428.8 L1665.4 1429.7 L1666.7 1430.5 L1667.9 1431.3 L1669.1 1432.2 L1670.4 1433.0 L1671.6 1433.9 L1672.8 1434.7 L1674.1 1435.5 L1675.3 1436.4 L1676.6 1437.2 L1677.8 1438.0 L1679.1 1438.8 L1680.3 1439.6 L1681.6 1440.4 L1682.8 1441.2 L1684.1 1442.0 L1685.3 1442.8 L1686.6 1443.6 L1687.9 1444.4 L1689.1 1445.2 L1690.4 1446.0 L1691.7 1446.8 L1692.9 1447.5 L1694.2 1448.3 L1695.5 1449.0 L1696.8 1449.8 L1698.1 1450.6 L1699.4 1451.3 L1700.7 1452.0 L1702.0 1452.8 L1703.3 1453.5 L1704.6 1454.2 L1705.9 1454.9 L1707.2 1455.6 L1708.5 1456.4 L1709.8 1457.1 L1711.1 1457.7 L1712.5 1458.4 L1713.8 1459.1 L1715.1 1459.8 L1716.5 1460.5 L1717.8 1461.1 L1719.2 1461.8 L1720.5 1462.4 L1721.9 1463.1 L1723.2 1463.7 L1724.6 1464.3 L1726.0 1465.0 L1727.3 1465.6 L1728.7 1466.2 L1730.1 1466.8 L1731.5 1467.4 L1732.9 1467.9 L1734.3 1468.5 L1735.7 1469.1 L1737.1 1469.6 L1738.5 1470.2" fill="none" stroke="#ff0000" stroke-width="4" stroke-linecap="round" stroke-linejoin="round"/>
<path d="M1065.1 1594.4 L1066.7 1594.4 L1068.3 1594.4 L1069.8 1594.4 L1071.4 1594.3 L1072.9 1594.3 L1074.5 1594.2 L1076.1 1594.1 L1077.6 1594.0 L1079.1 1593.9 L1080.7 1593.8 L1082.2 1593.7 L1083.7 1593.5 L1085.2 1593.3 L1086.8 1593.2 L1088.3 1593.0 L1089.8 1592.8 L1091.3 1592.5 L1092.8 1592.3 L1094.2 1592.0 L1095.7 1591.8 L1097.2 1591.5 L1098.7 1591.2 L1100.1 1590.9 L1101.6 1590.6 L1103.1 1590.3 L1104.5 1590.0 L1106.0 1589.6 L1107.4 1589.2 L1108.8 1588.9 L1110.3 1588.5 L1111.7 1588.1 L1113.1 1587.7 L1114.5 1587.2 L1116.0 1586.8 L1117.4 1586.4 L1118.8 1585.9 L1120.2 1585.4 L1121.6 1585.0 L1123.0 1584.5 L1124.4 1584.0 L1125.7 1583.4 L1127.1 1582.9 L1128.5 1582.4 L1129.8 1581.8 L1131.2 1581.3 L1132.6 1580.7 L1133.9 1580.1 L1135.3 1579.5 L1136.6 1578.9 L1138.0 1578.3 L1139.3 1577.7 L1140.6 1577.1 L1142.0 1576.4 L1143.3 1575.8 L1144.6 1575.1 L1145.9 1574.5 L1147.2 1573.8 L1148.5 1573.1 L1149.8 1572.4 L1151.1 1571.7 L1152.4 1571.0 L1153.7 1570.3 L1155.0 1569.5 L1156.3 1568.8 L1157.5 1568.0 L1158.8 1567.3 L1160.1 1566.5 L1161.3 1565.7 L1162.6 1565.0 L1163.8 1564.2 L1165.1 1563.4 L1166.3 1562.6 L1167.6 1561.7 L1168.8 1560.9 L1170.0 1560.1 L1171.3 1559.2 L1172.5 1558.4 L1173.7 1557.5 L1174.9 1556.7 L1176.1 1555.8 L1177.4 1554.9 L1178.6 1554.1 L1179.8 1553.2 L1181.0 1552.3 L1182.1 1551.4 L1183.3 1550.5 L1184.5 1549.5 L1185.7 1548.6 L1186.9 1547.7 L1188.1 1546.8 L1189.2 1545.8 L1190.4 1544.9 L1191.5 1543.9 L1192.7 1543.0 L1193.9 1542.0 L1195.0 1541.0 L1196.2 1540.0 L1197.3 1539.1 L1198.4 1538.1 L1199.6 1537.1 L1200.7 1536.1 L1201.8 1535.1 L1203.0 1534.1 L1204.1 1533.1 L1205.2 1532.0 L1206.3 1531.0 L1207.4 1530.0 L1208.5 1529.0 L1209.6 1527.9 L1210.7 1526.9 L1211.8 1525.9 L1212.9 1524.8 L1214.0 1523.8 L1215.1 1522.7 L1216.2 1521.6 L1217.3 1520.6 L1218.3 1519.5 L1219.4 1518.4 L1220.5 1517.4 L1221.5 1516.3 L1222.6 1515.2 L1223.7 1514.1 L1224.7 1513.1 L1225.8 1512.0 L1226.8 1510.9 L1227.9 1509.8 L1228.9 1508.7 L1229.9 1507.6 L1231.0 1506.5 L1232.0 1505.4 L1233.0 1504.3 L1234.1 1503.2 L1235.1 1502.1 L1236.1 1501.0 L1237.1 1499.8 L1238.1 1498.7 L1239.2 1497.6 L1240.2 1496.5 L1241.2 1495.4 L1242.2 1494.3 L1243.2 1493.1 L1244.2 1492.0 L1245.2 1490.9 L1246.2 1489.8 L1247.1 1488.6 L1248.1 1487.5 L1249.1 1486.4 L1250.1 1485.3 L1251.1 1484.1 L1252.0 1483.0 L1253.0 1481.9 L1254.0 1480.7 L1254.9 1479.6 L1255.9 1478.5 L1256.9 1477.3 L1257.8 1476.2 L1258.8 1475.1 L1259.7 1473.9 L1260.7 1472.8 L1261.6 1471.7 L1262.6 1470.5 L1263.5 1469.4 L1264.5 1468.2 L1265.4 1467.1 L1266.4 1465.9 L1267.3 1464.8 L1268.2 1463.6 L1269.2 1462.5 L1270.1 1461.4 L1271.0 1460.2 L1272.0 1459.1 L1272.9 1457.9 L1273.8 1456.8 L1274.7 1455.6 L1275.7 1454.5 L1276.6 1453.3 L1277.5 1452.1 L1278.4 1451.0 L1279.3 1449.8 L1280.3 1448.7 L1281.2 1447.5 L1282.1 1446.4 L1283.0 1445.2 L1283.9 1444.0 L1284.8 1442.9 L1285.7 1441.7 L1286.7 1440.6 L1287.6 1439.4 L1288.5 1438.2 L1289.4 1437.1 L1290.3 1435.9 L1291.2 1434.8 L1292.1 1433.6 L1293.0 1432.4 L1293.9 1431.3 L1294.8 1430.1 L1295.7 1428.9 L1296.6 1427.8 L1297.5 1426.6 L1298.4 1425.4 L1299.3 1424.2 L1300.2 1423.1 L1301.1 1421.9 L1302.0 1420.7 L1302.9 1419.6 L1303.8 1418.4 L1304.7 1417.2 L1305.6 1416.0 L1306.6 1414.9 L1307.5 1413.7 L1308.4 1412.5 L1309.3 1411.3 L1310.2 1410.2 L1311.1 1409.0 L1312.0 1407.8 L1312.9 1406.6 L1313.8 1405.5 L1314.7 1404.3 L1315.6 1403.1 L1316.5 1401.9 L1317.4 1400.7 L1318.3 1399.6 L1319.2 1398.4 L1320.1 1397.2 L1321.1 1396.0 L1322.0 1394.8 L1322.9 1393.7 L1323.8 1392.5 L1324.7 1391.3 L1325.6 1390.1 L1326.5 1388.9 L1327.5 1387.7 L1328.4 1386.6 L1329.3 1385.4 L1330.2 1384.2 L1331.2 1383.0 L1332.1 1381.8 L1333.0 1380.6 L1333.9 1379.5 L1334.9 1378.3 L1335.8 1377.1 L1336.7 1375.9 L1337.7 1374.7 L1338.6 1373.5 L1339.5 1372.3 L1340.5 1371.2 L1341.4 1370.0 L1342.4 1368.8 L1343.3 1367.6 L1344.3 1366.4 L1345.2 1365.2 L1346.2 1364.0 L1347.1 1362.8 L1348.1 1361.7 L1349.1 1360.5 L1350.0 1359.3 L1351.0 1358.1 L1352.0 1356.9 L1352.9 1355.7 L1353.9 1354.5 L1354.9 1353.4 L1355.9 1352.2 L1356.8 1351.0 L1357.8 1349.8 L1358.8 1348.6 L1359.8 1347.4 L1360.8 1346.3 L1361.8 1345.1 L1362.8 1343.9 L1363.8 1342.7 L1364.8 1341.6 L1365.8 1340.4 L1366.8 1339.2 L1367.8 1338.1 L1368.8 1336.9 L1369.9 1335.8 L1370.9 1334.6 L1371.9 1333.5 L1372.9 1332.3 L1374.0 1331.2 L1375.0 1330.1 L1376.1 1328.9 L1377.1 1327.8 L1378.2 1326.7 L1379.2 1325.6 L1380.3 1324.5 L1381.3 1323.4 L1382.4 1322.3 L1383.5 1321.2 L1384.6 1320.1 L1385.6 1319.0 L1386.7 1317.9 L1387.8 1316.9 L1388.9 1315.8 L1390.0 1314.8 L1391.1 1313.7 L1392.2 1312.7 L1393.3 1311.7 L1394.4 1310.6 L1395.6 1309.6 L1396.7 1308.6 L1397.8 1307.6 L1399.0 1306.6 L1400.1 1305.6 L1401.2 1304.6 L1402.4 1303.7 L1403.5 1302.7 L1404.7 1301.8 L1405.9 1300.8 L1407.0 1299.9 L1408.2 1299.0 L1409.4 1298.1 L1410.6 1297.2 L1411.8 1296.3 L1413.0 1295.4 L1414.2 1294.5 L1415.4 1293.7 L1416.6 1292.8 L1417.8 1292.0 L1419.1 1291.2 L1420.3 1290.4 L1421.5 1289.6 L1422.8 1288.8 L1424.0 1288.0 L1425.3 1287.2 L1426.6 1286.5 L1427.8 1285.7 L1429.1 1285.0 L1430.4 1284.3 L1431.7 1283.6 L1433.0 1282.9 L1434.3 1282.2 L1435.6 1281.6 L1436.9 1280.9 L1438.2 1280.3 L1439.6 1279.7 L1440.9 1279.1 L1442.2 1278.5 L1443.6 1277.9 L1444.9 1277.3 L1446.3 1276.8 L1447.7 1276.3 L1449.1 1275.7 L1450.4 1275.2 L1451.8 1274.8 L1453.2 1274.3 L1454.6 1273.8 L1456.0 1273.4 L1457.5 1273.0 L1458.9 1272.6 L1460.3 1272.2 L1461.7 1271.8 L1463.2 1271.5 L1464.6 1271.1 L1466.1 1270.8 L1467.5 1270.5 L1469.0 1270.3 L1470.4 1270.0 L1471.9 1269.8 L1473.3 1269.5 L1474.8 1269.3 L1476.3 1269.2 L1477.7 1269.0 L1479.2 1268.8 L1480.7 1268.7 L1482.2 1268.6 L1483.6 1268.5 L1485.1 1268.5 L1486.6 1268.4 L1488.1 1268.4 L1489.6 1268.4 L1491.0 1268.4 L1492.5 1268.5 L1494.0 1268.5 L1495.5 1268.6 L1496.9 1268.7 L1498.4 1268.8 L1499.9 1269.0 L1501.4 1269.1 L1502.8 1269.3 L1504.3 1269.5 L1505.8 1269.7 L1507.2 1270.0 L1508.7 1270.2 L1510.1 1270.5 L1511.6 1270.8 L1513.0 1271.1 L1514.5 1271.5 L1515.9 1271.8 L1517.4 1272.2 L1518.8 1272.6 L1520.2 1273.0 L1521.6 1273.4 L1523.1 1273.8 L1524.5 1274.3 L1525.9 1274.8 L1527.3 1275.2 L1528.7 1275.7 L1530.0 1276.3 L1531.4 1276.8 L1532.8 1277.4 L1534.2 1277.9 L1535.5 1278.5 L1536.9 1279.1 L1538.2 1279.7 L1539.6 1280.4 L1540.9 1281.0 L1542.2 1281.7 L1543.6 1282.3 L1544.9 1283.0 L1546.2 1283.7 L1547.5 1284.4 L1548.8 1285.2 L1550.1 1285.9 L1551.4 1286.6 L1552.7 1287.4 L1554.0 1288.2 L1555.3 1289.0 L1556.6 1289.8 L1557.8 1290.6 L1559.1 1291.4 L1560.4 1292.2 L1561.6 1293.0 L1562.9 1293.9 L1564.1 1294.7 L1565.4 1295.6 L1566.6 1296.4 L1567.8 1297.3 L1569.1 1298.2 L1570.3 1299.1 L1571.5 1300.0 L1572.8 1300.9 L1574.0 1301.8 L1575.2 1302.7 L1576.4 1303.6 L1577.6 1304.6 L1578.8 1305.5 L1580.0 1306.4 L1581.2 1307.4 L1582.4 1308.3 L1583.6 1309.3 L1584.8 1310.2 L1586.0 1311.2 L1587.2 1312.2 L1588.4 1313.1 L1589.6 1314.1 L1590.8 1315.1 L1591.9 1316.0 L1593.1 1317.0 L1594.3 1318.0 L1595.5 1319.0 L1596.6 1319.9 L1597.8 1320.9 L1599.0 1321.9 L1600.1 1322.9 L1601.3 1323.9 L1602.5 1324.9 L1603.6 1325.8 L1604.8 1326.8 L1605.9 1327.8 L1607.1 1328.8 L1608.2 1329.7 L1609.4 1330.7 L1610.6 1331.7 L1611.7 1332.7 L1612.9 1333.6 L1614.0 1334.6 L1615.2 1335.6 L1616.3 1336.6 L1617.5 1337.5 L1618.6 1338.5 L1619.7 1339.5 L1620.9 1340.5 L1622.0 1341.4 L1623.2 1342.4 L1624.3 1343.4 L1625.5 1344.3 L1626.6 1345.3 L1627.7 1346.3 L1628.9 1347.2 L1630.0 1348.2 L1631.2 1349.1 L1632.3 1350.1 L1633.5 1351.1 L1634.6 1352.0 L1635.7 1353.0 L1636.9 1353.9 L1638.0 1354.9 L1639.1 1355.9 L1640.3 1356.8 L1641.4 1357.8 L1642.6 1358.7 L1643.7 1359.7 L1644.8 1360.6 L1646.0 1361.6 L1647.1 1362.5 L1648.3 1363.5 L1649.4 1364.4 L1650.5 1365.4 L1651.7 1366.3 L1652.8 1367.3 L1654.0 1368.2 L1655.1 1369.2 L1656.2 1370.1 L1657.4 1371.0 L1658.5 1372.0 L1659.7 1372.9 L1660.8 1373.9 L1662.0 1374.8 L1663.1 1375.7 L1664.2 1376.7 L1665.4 1377.6 L1666.5 1378.5 L1667.7 1379.5 L1668.8 1380.4 L1670.0 1381.3 L1671.1 1382.3 L1672.3 1383.2 L1673.5 1384.1 L1674.6 1385.0 L1675.8 1386.0 L1676.9 1386.9 L1678.1 1387.8 L1679.2 1388.7 L1680.4 1389.6 L1681.6 1390.6 L1682.7 1391.5 L1683.9 1392.4 L1685.1 1393.3 L1686.2 1394.2 L1687.4 1395.1 L1688.6 1396.0 L1689.7 1397.0 L1690.9 1397.9 L1692.1 1398.8 L1693.3 1399.7 L1694.5 1400.6 L1695.6 1401.5 L1696.8 1402.4 L1698.0 1403.3 L1699.2 1404.2 L1700.4 1405.1 L1701.6 1406.0 L1702.8 1406.9 L1704.0 1407.8 L1705.2 1408.7 L1706.4 1409.5 L1707.6 1410.4 L1708.8 1411.3 L1710.0 1412.2 L1711.2 1413.1 L1712.4 1414.0 L1713.6 1414.9 L1714.8 1415.7 L1716.1 1416.6 L1717.3 1417.5 L1718.5 1418.4 L1719.7 1419.3 L1721.0 1420.1 L1722.2 1421.0 L1723.4 1421.9 L1724.7 1422.7 L1725.9 1423.6 L1727.2 1424.5 L1728.4 1425.3 L1729.7 1426.2 L1730.9 1427.1 L1732.2 1427.9 L1733.4 1428.8 L1734.7 1429.6 L1736.0 1430.5 L1737.2 1431.3 L1738.5 1432.2" fill="none" stroke="#ff0000" stroke-width="4" stroke-linecap="round" stroke-linejoin="round"/>
<path d="M1065.1 1594.4 L1066.7 1594.3 L1068.4 1594.3 L1070.0 1594.2 L1071.6 1594.1 L1073.2 1594.0 L1074.8 1593.8 L1076.4 1593.7 L1078.0 1593.5 L1079.6 1593.4 L1081.2 1593.2 L1082.7 1593.0 L1084.3 1592.8 L1085.8 1592.5 L1087.3 1592.3 L1088.9 1592.0 L1090.4 1591.8 L1091.9 1591.5 L1093.4 1591.2 L1094.9 1590.9 L1096.4 1590.5 L1097.9 1590.2 L1099.3 1589.8 L1100.8 1589.5 L1102.3 1589.1 L1103.7 1588.7 L1105.2 1588.3 L1106.6 1587.9 L1108.0 1587.4 L1109.4 1587.0 L1110.9 1586.5 L1112.3 1586.1 L1113.7 1585.6 L1115.1 1585.1 L1116.4 1584.6 L1117.8 1584.1 L1119.2 1583.5 L1120.5 1583.0 L1121.9 1582.4 L1123.3 1581.9 L1124.6 1581.3 L1125.9 1580.7 L1127.3 1580.1 L1128.6 1579.5 L1129.9 1578.9 L1131.2 1578.2 L1132.5 1577.6 L1133.8 1576.9 L1135.1 1576.3 L1136.4 1575.6 L1137.6 1574.9 L1138.9 1574.2 L1140.2 1573.5 L1141.4 1572.8 L1142.7 1572.0 L1143.9 1571.3 L1145.2 1570.5 L1146.4 1569.8 L1147.6 1569.0 L1148.8 1568.2 L1150.0 1567.4 L1151.3 1566.6 L1152.5 1565.8 L1153.6 1565.0 L1154.8 1564.2 L1156.0 1563.3 L1157.2 1562.5 L1158.4 1561.6 L1159.5 1560.8 L1160.7 1559.9 L1161.8 1559.0 L1163.0 1558.1 L1164.1 1557.2 L1165.3 1556.3 L1166.4 1555.4 L1167.5 1554.5 L1168.7 1553.6 L1169.8 1552.6 L1170.9 1551.7 L1172.0 1550.7 L1173.1 1549.7 L1174.2 1548.8 L1175.3 1547.8 L1176.4 1546.8 L1177.4 1545.8 L1178.5 1544.8 L1179.6 1543.8 L1180.7 1542.8 L1181.7 1541.8 L1182.8 1540.7 L1183.8 1539.7 L1184.9 1538.6 L1185.9 1537.6 L1186.9 1536.5 L1188.0 1535.5 L1189.0 1534.4 L1190.0 1533.3 L1191.0 1532.2 L1192.1 1531.1 L1193.1 1530.0 L1194.1 1528.9 L1195.1 1527.8 L1196.1 1526.7 L1197.1 1525.6 L1198.1 1524.5 L1199.0 1523.4 L1200.0 1522.2 L1201.0 1521.1 L1202.0 1519.9 L1202.9 1518.8 L1203.9 1517.6 L1204.9 1516.5 L1205.8 1515.3 L1206.8 1514.1 L1207.7 1513.0 L1208.7 1511.8 L1209.6 1510.6 L1210.6 1509.4 L1211.5 1508.2 L1212.4 1507.0 L1213.4 1505.8 L1214.3 1504.6 L1215.2 1503.4 L1216.1 1502.2 L1217.0 1501.0 L1217.9 1499.8 L1218.9 1498.5 L1219.8 1497.3 L1220.7 1496.1 L1221.6 1494.8 L1222.5 1493.6 L1223.4 1492.4 L1224.2 1491.1 L1225.1 1489.9 L1226.0 1488.6 L1226.9 1487.4 L1227.8 1486.1 L1228.7 1484.9 L1229.5 1483.6 L1230.4 1482.4 L1231.3 1481.1 L1232.1 1479.8 L1233.0 1478.6 L1233.9 1477.3 L1234.7 1476.0 L1235.6 1474.8 L1236.4 1473.5 L1237.3 1472.2 L1238.1 1470.9 L1239.0 1469.7 L1239.8 1468.4 L1240.7 1467.1 L1241.5 1465.8 L1242.3 1464.5 L1243.2 1463.3 L1244.0 1462.0 L1244.8 1460.7 L1245.7 1459.4 L1246.5 1458.1 L1247.3 1456.8 L1248.2 1455.6 L1249.0 1454.3 L1249.8 1453.0 L1250.6 1451.7 L1251.5 1450.4 L1252.3 1449.1 L1253.1 1447.8 L1253.9 1446.6 L1254.7 1445.3 L1255.5 1444.0 L1256.3 1442.7 L1257.1 1441.4 L1258.0 1440.1 L1258.8 1438.9 L1259.6 1437.6 L1260.4 1436.3 L1261.2 1435.0 L1262.0 1433.7 L1262.8 1432.5 L1263.6 1431.2 L1264.4 1429.9 L1265.2 1428.6 L1266.0 1427.3 L1266.8 1426.0 L1267.6 1424.8 L1268.4 1423.5 L1269.1 1422.2 L1269.9 1420.9 L1270.7 1419.6 L1271.5 1418.4 L1272.3 1417.1 L1273.1 1415.8 L1273.9 1414.5 L1274.7 1413.3 L1275.4 1412.0 L1276.2 1410.7 L1277.0 1409.4 L1277.8 1408.1 L1278.6 1406.9 L1279.3 1405.6 L1280.1 1404.3 L1280.9 1403.0 L1281.7 1401.8 L1282.5 1400.5 L1283.2 1399.2 L1284.0 1397.9 L1284.8 1396.6 L1285.6 1395.4 L1286.3 1394.1 L1287.1 1392.8 L1287.9 1391.5 L1288.6 1390.3 L1289.4 1389.0 L1290.2 1387.7 L1291.0 1386.4 L1291.7 1385.2 L1292.5 1383.9 L1293.3 1382.6 L1294.0 1381.4 L1294.8 1380.1 L1295.6 1378.8 L1296.3 1377.5 L1297.1 1376.3 L1297.9 1375.0 L1298.6 1373.7 L1299.4 1372.4 L1300.2 1371.2 L1300.9 1369.9 L1301.7 1368.6 L1302.5 1367.4 L1303.2 1366.1 L1304.0 1364.8 L1304.7 1363.5 L1305.5 1362.3 L1306.3 1361.0 L1307.0 1359.7 L1307.8 1358.5 L1308.6 1357.2 L1309.3 1355.9 L1310.1 1354.7 L1310.9 1353.4 L1311.6 1352.1 L1312.4 1350.8 L1313.1 1349.6 L1313.9 1348.3 L1314.7 1347.0 L1315.4 1345.8 L1316.2 1344.5 L1317.0 1343.2 L1317.7 1342.0 L1318.5 1340.7 L1319.3 1339.4 L1320.0 1338.2 L1320.8 1336.9 L1321.6 1335.6 L1322.3 1334.4 L1323.1 1333.1 L1323.9 1331.8 L1324.6 1330.6 L1325.4 1329.3 L1326.2 1328.0 L1326.9 1326.8 L1327.7 1325.5 L1328.5 1324.2 L1329.2 1323.0 L1330.0 1321.7 L1330.8 1320.4 L1331.6 1319.2 L1332.3 1317.9 L1333.1 1316.6 L1333.9 1315.4 L1334.7 1314.1 L1335.4 1312.8 L1336.2 1311.6 L1337.0 1310.3 L1337.8 1309.1 L1338.5 1307.8 L1339.3 1306.5 L1340.1 1305.3 L1340.9 1304.0 L1341.7 1302.7 L1342.4 1301.5 L1343.2 1300.2 L1344.0 1299.0 L1344.8 1297.7 L1345.6 1296.4 L1346.4 1295.2 L1347.2 1293.9 L1347.9 1292.6 L1348.7 1291.4 L1349.5 1290.1 L1350.3 1288.9 L1351.1 1287.6 L1351.9 1286.3 L1352.7 1285.1 L1353.5 1283.8 L1354.3 1282.6 L1355.1 1281.3 L1355.9 1280.0 L1356.7 1278.8 L1357.5 1277.5 L1358.3 1276.3 L1359.1 1275.0 L1359.9 1273.7 L1360.7 1272.5 L1361.5 1271.2 L1362.3 1270.0 L1363.2 1268.7 L1364.0 1267.4 L1364.8 1266.2 L1365.6 1264.9 L1366.4 1263.7 L1367.2 1262.4 L1368.1 1261.2 L1368.9 1259.9 L1369.7 1258.6 L1370.6 1257.4 L1371.4 1256.1 L1372.2 1254.9 L1373.1 1253.6 L1373.9 1252.4 L1374.8 1251.1 L1375.6 1249.9 L1376.4 1248.7 L1377.3 1247.4 L1378.2 1246.2 L1379.0 1244.9 L1379.9 1243.7 L1380.7 1242.4 L1381.6 1241.2 L1382.5 1240.0 L1383.4 1238.7 L1384.2 1237.5 L1385.1 1236.3 L1386.0 1235.0 L1386.9 1233.8 L1387.8 1232.6 L1388.7 1231.4 L1389.6 1230.1 L1390.5 1228.9 L1391.4 1227.7 L1392.3 1226.5 L1393.2 1225.3 L1394.2 1224.1 L1395.1 1222.9 L1396.0 1221.7 L1397.0 1220.4 L1397.9 1219.2 L1398.8 1218.0 L1399.8 1216.8 L1400.7 1215.7 L1401.7 1214.5 L1402.7 1213.3 L1403.6 1212.1 L1404.6 1210.9 L1405.6 1209.7 L1406.6 1208.5 L1407.6 1207.4 L1408.6 1206.2 L1409.6 1205.0 L1410.6 1203.9 L1411.6 1202.7 L1412.6 1201.5 L1413.7 1200.4 L1414.7 1199.2 L1415.7 1198.1 L1416.8 1196.9 L1417.8 1195.8 L1418.9 1194.7 L1420.0 1193.5 L1421.0 1192.4 L1422.1 1191.3 L1423.2 1190.2 L1424.3 1189.1 L1425.4 1188.0 L1426.5 1186.9 L1427.6 1185.9 L1428.7 1184.8 L1429.8 1183.8 L1431.0 1182.7 L1432.1 1181.7 L1433.3 1180.7 L1434.4 1179.7 L1435.6 1178.8 L1436.8 1177.8 L1438.0 1176.9 L1439.2 1176.0 L1440.4 1175.1 L1441.6 1174.2 L1442.8 1173.4 L1444.0 1172.6 L1445.3 1171.8 L1446.5 1171.0 L1447.8 1170.2 L1449.1 1169.5 L1450.3 1168.8 L1451.6 1168.1 L1452.9 1167.4 L1454.2 1166.8 L1455.5 1166.2 L1456.9 1165.7 L1458.2 1165.1 L1459.6 1164.6 L1460.9 1164.1 L1462.3 1163.7 L1463.7 1163.3 L1465.0 1162.9 L1466.4 1162.5 L1467.8 1162.2 L1469.2 1161.8 L1470.7 1161.6 L1472.1 1161.3 L1473.5 1161.1 L1474.9 1160.9 L1476.4 1160.7 L1477.8 1160.5 L1479.2 1160.4 L1480.7 1160.3 L1482.1 1160.2 L1483.6 1160.2 L1485.1 1160.2 L1486.5 1160.2 L1488.0 1160.2 L1489.4 1160.2 L1490.9 1160.3 L1492.4 1160.4 L1493.8 1160.5 L1495.3 1160.7 L1496.8 1160.8 L1498.2 1161.0 L1499.7 1161.2 L1501.2 1161.4 L1502.6 1161.7 L1504.1 1162.0 L1505.5 1162.3 L1507.0 1162.6 L1508.4 1162.9 L1509.9 1163.3 L1511.3 1163.7 L1512.7 1164.1 L1514.2 1164.5 L1515.6 1164.9 L1517.0 1165.4 L1518.4 1165.8 L1519.8 1166.3 L1521.2 1166.9 L1522.6 1167.4 L1524.0 1167.9 L1525.4 1168.5 L1526.7 1169.1 L1528.1 1169.7 L1529.5 1170.3 L1530.8 1170.9 L1532.1 1171.6 L1533.5 1172.3 L1534.8 1173.0 L1536.1 1173.7 L1537.4 1174.4 L1538.7 1175.1 L1540.0 1175.8 L1541.3 1176.6 L1542.6 1177.4 L1543.8 1178.2 L1545.1 1179.0 L1546.4 1179.8 L1547.6 1180.6 L1548.9 1181.5 L1550.1 1182.3 L1551.3 1183.2 L1552.6 1184.1 L1553.8 1185.0 L1555.0 1185.9 L1556.2 1186.8 L1557.4 1187.7 L1558.6 1188.6 L1559.8 1189.6 L1561.0 1190.5 L1562.1 1191.5 L1563.3 1192.5 L1564.5 1193.5 L1565.6 1194.5 L1566.8 1195.5 L1567.9 1196.5 L1569.0 1197.5 L1570.2 1198.5 L1571.3 1199.6 L1572.4 1200.6 L1573.6 1201.6 L1574.7 1202.7 L1575.8 1203.8 L1576.9 1204.8 L1578.0 1205.9 L1579.1 1207.0 L1580.1 1208.1 L1581.2 1209.2 L1582.3 1210.3 L1583.4 1211.4 L1584.4 1212.5 L1585.5 1213.6 L1586.6 1214.7 L1587.6 1215.8 L1588.7 1217.0 L1589.7 1218.1 L1590.7 1219.2 L1591.8 1220.3 L1592.8 1221.5 L1593.8 1222.6 L1594.9 1223.7 L1595.9 1224.9 L1596.9 1226.0 L1597.9 1227.2 L1598.9 1228.3 L1599.9 1229.5 L1600.9 1230.6 L1601.9 1231.7 L1602.9 1232.9 L1603.9 1234.0 L1604.9 1235.2 L1605.8 1236.3 L1606.8 1237.5 L1607.8 1238.6 L1608.8 1239.8 L1609.7 1240.9 L1610.7 1242.1 L1611.7 1243.2 L1612.6 1244.4 L1613.6 1245.5 L1614.5 1246.7 L1615.5 1247.8 L1616.4 1249.0 L1617.4 1250.1 L1618.3 1251.3 L1619.3 1252.4 L1620.2 1253.6 L1621.2 1254.7 L1622.1 1255.9 L1623.1 1257.0 L1624.0 1258.2 L1624.9 1259.3 L1625.9 1260.5 L1626.8 1261.6 L1627.8 1262.8 L1628.7 1263.9 L1629.6 1265.1 L1630.6 1266.2 L1631.5 1267.3 L1632.4 1268.5 L1633.4 1269.6 L1634.3 1270.8 L1635.2 1271.9 L1636.2 1273.1 L1637.1 1274.2 L1638.0 1275.4 L1639.0 1276.5 L1639.9 1277.7 L1640.9 1278.8 L1641.8 1279.9 L1642.7 1281.1 L1643.7 1282.2 L1644.6 1283.4 L1645.5 1284.5 L1646.5 1285.6 L1647.4 1286.8 L1648.4 1287.9 L1649.3 1289.0 L1650.3 1290.2 L1651.2 1291.3 L1652.2 1292.4 L1653.1 1293.5 L1654.1 1294.7 L1655.1 1295.8 L1656.0 1296.9 L1657.0 1298.1 L1657.9 1299.2 L1658.9 1300.3 L1659.9 1301.4 L1660.9 1302.5 L1661.8 1303.6 L1662.8 1304.8 L1663.8 1305.9 L1664.8 1307.0 L1665.8 1308.1 L1666.8 1309.2 L1667.8 1310.3 L1668.8 1311.4 L1669.8 1312.5 L1670.8 1313.6 L1671.8 1314.7 L1672.8 1315.8 L1673.9 1316.9 L1674.9 1318.0 L1675.9 1319.1 L1676.9 1320.2 L1678.0 1321.3 L1679.0 1322.3 L1680.1 1323.4 L1681.1 1324.5 L1682.2 1325.6 L1683.2 1326.7 L1684.3 1327.7 L1685.4 1328.8 L1686.4 1329.9 L1687.5 1330.9 L1688.6 1332.0 L1689.7 1333.1 L1690.7 1334.1 L1691.8 1335.2 L1692.9 1336.2 L1694.0 1337.3 L1695.1 1338.4 L1696.2 1339.4 L1697.3 1340.5 L1698.4 1341.5 L1699.5 1342.5 L1700.6 1343.6 L1701.7 1344.6 L1702.8 1345.7 L1703.9 1346.7 L1705.0 1347.7 L1706.1 1348.7 L1707.2 1349.8 L1708.3 1350.8 L1709.4 1351.8 L1710.5 1352.8 L1711.7 1353.9 L1712.8 1354.9 L1713.9 1355.9 L1715.0 1356.9 L1716.1 1357.9 L1717.3 1358.9 L1718.4 1359.9 L1719.5 1360.9 L1720.6 1361.9 L1721.8 1362.9 L1722.9 1363.9 L1724.0 1364.9 L1725.1 1365.9 L1726.3 1366.8 L1727.4 1367.8 L1728.5 1368.8 L1729.6 1369.8 L1730.8 1370.8 L1731.9 1371.7 L1733.0 1372.7 L1734.1 1373.7 L1735.2 1374.6 L1736.4 1375.6 L1737.5 1376.5 L1738.6 1377.5" fill="none" stroke="#000" stroke-width="4" stroke-linecap="round" stroke-linejoin="round"/>
<text x="1440.70" y="1207.70" fill="#000" stroke="#000" font-size="38" textLength="97.99" lengthAdjust="spacing">115 A</text>
<text x="1436.20" y="1311.60" fill="#ff0000" stroke="#ff0000" font-size="38" textLength="97.82" lengthAdjust="spacing">100 A</text>
<text x="1443.30" y="1374.30" fill="#ff0000" stroke="#ff0000" font-size="38" textLength="76.68" lengthAdjust="spacing">90 A</text>
<text x="1440.00" y="1432.80" fill="#ff0000" stroke="#ff0000" font-size="38" textLength="77.68" lengthAdjust="spacing">80 A</text>
</svg>
</body></html>
